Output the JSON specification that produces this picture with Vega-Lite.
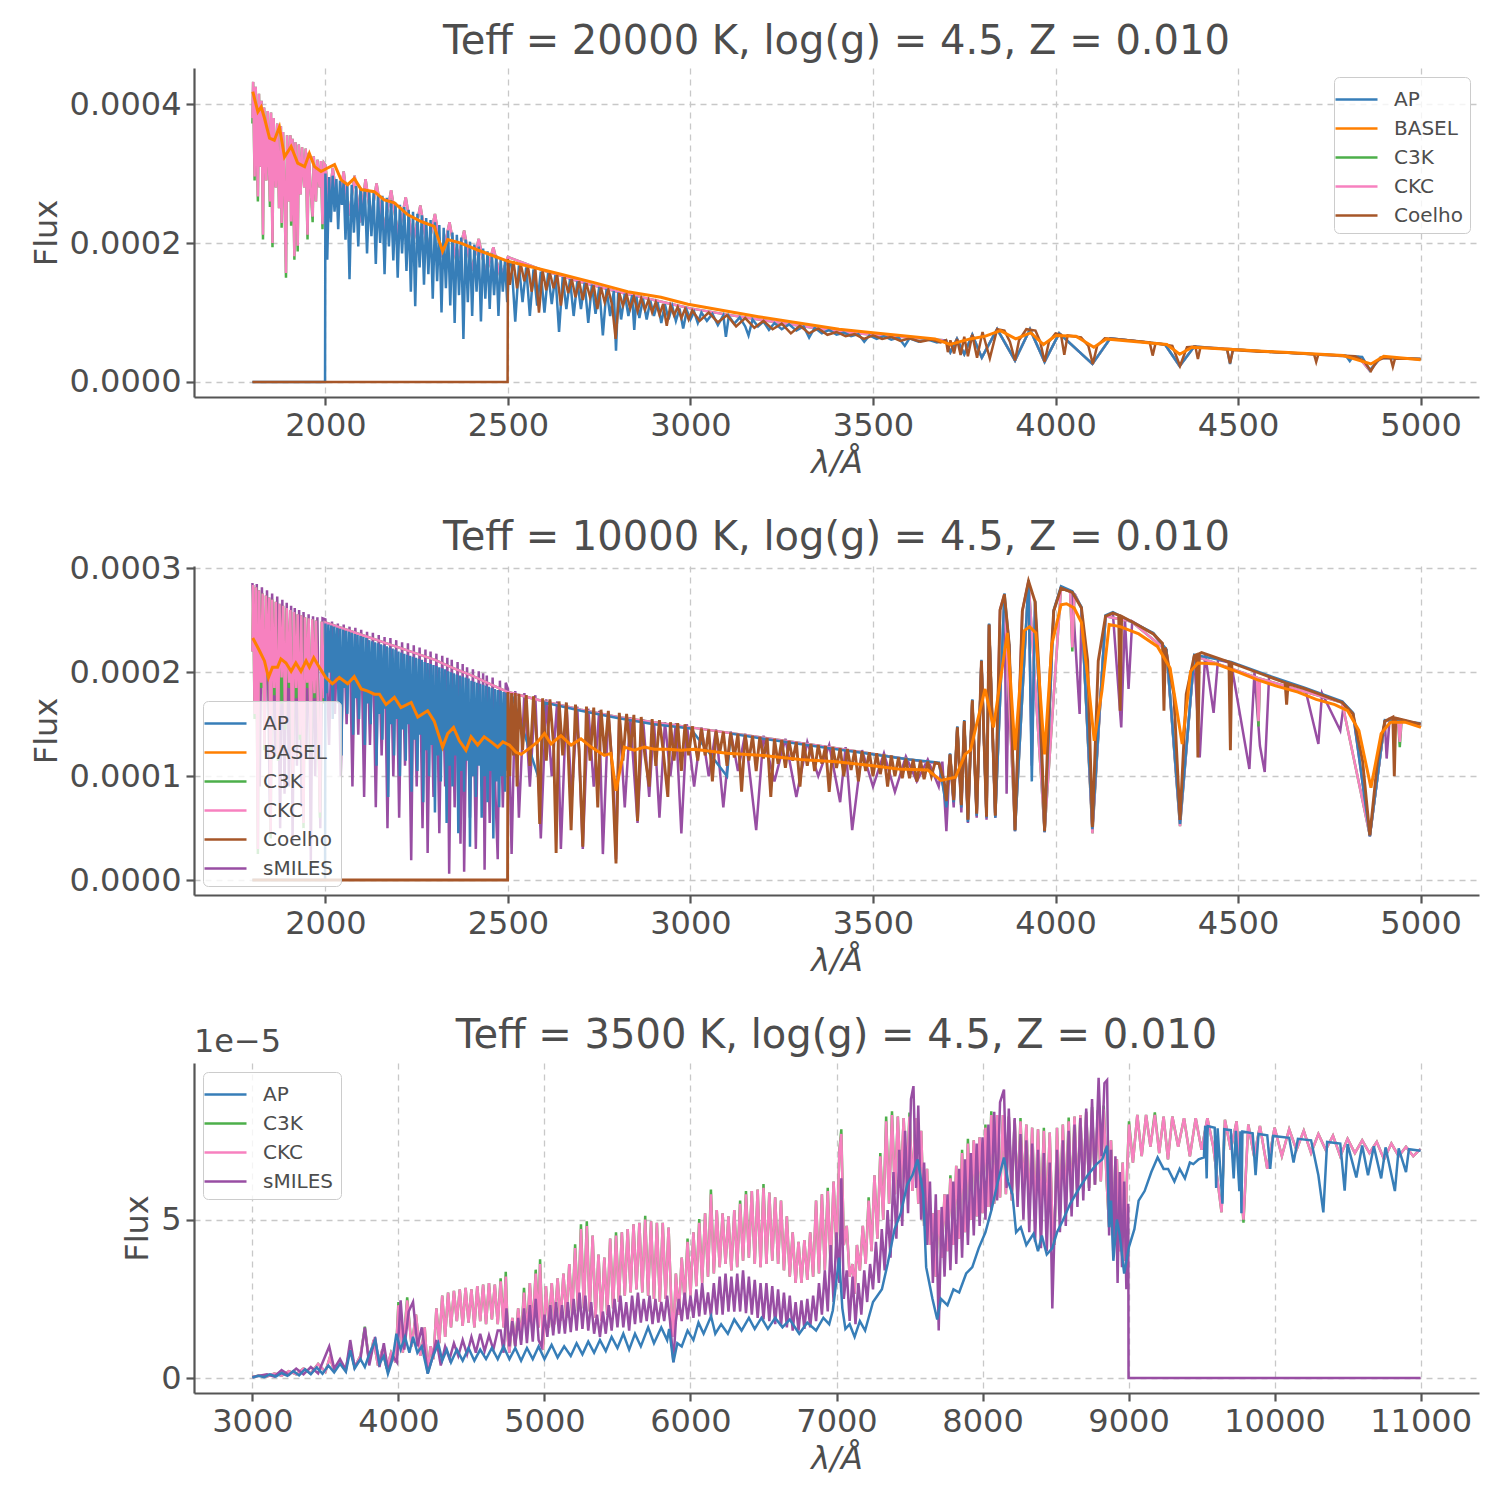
{
  "$schema": "https://vega.github.io/schema/vega-lite/v6.json",
  "padding": {"left": 30, "top": 22, "right": 5, "bottom": 5},
  "config": {
    "font": "DejaVu Sans",
    "view": {"stroke": null},
    "axis": {"labelFontSize": 32, "titleFontSize": 32, "titleFontWeight": "normal", "labelColor": "#4d4d4d", "titleColor": "#4d4d4d", "domainColor": "#555555", "domainWidth": 2.2, "tickColor": "#555555", "tickWidth": 2.2, "tickSize": 8, "gridColor": "#c8c8c8", "gridDash": [6, 5], "gridWidth": 1.3, "labelPadding": 5, "titlePadding": 6, "labelFlush": false, "labelOverlap": false},
    "title": {"fontSize": 40, "fontWeight": "normal", "color": "#4d4d4d", "offset": 6},
    "legend": {"labelFontSize": 20, "labelColor": "#4d4d4d", "symbolType": "M-1.5,0H1.5", "symbolStrokeWidth": 3, "symbolSize": 784, "fillColor": "rgba(255,255,255,0.8)", "strokeColor": "#cccccc", "cornerRadius": 5, "padding": 7, "offset": 9, "rowPadding": 3, "labelOffset": 22},
    "line": {"strokeWidth": 2.5, "clip": true}
  },
  "resolve": {"scale": {"color": "independent"}, "legend": {"color": "independent"}},
  "spacing": 40,
  "datasets": {
    "p1_ckc": [
      {"wl":1800,"CKC":3.80e-4,"C3K":3.72e-4},{"wl":1802,"CKC":4.32e-4,"C3K":4.32e-4},{"wl":1806,"CKC":2.96e-4,"C3K":2.90e-4},{"wl":1809,"CKC":4.25e-4,"C3K":4.25e-4},
      {"wl":1815,"CKC":2.67e-4,"C3K":2.60e-4},{"wl":1818,"CKC":4.15e-4,"C3K":4.15e-4},{"wl":1822,"CKC":3.10e-4,"C3K":3.10e-4},{"wl":1825,"CKC":4.05e-4,"C3K":4.05e-4},
      {"wl":1829,"CKC":2.12e-4,"C3K":2.05e-4},{"wl":1832,"CKC":3.95e-4,"C3K":3.95e-4},{"wl":1838,"CKC":2.90e-4,"C3K":2.90e-4},{"wl":1842,"CKC":3.90e-4,"C3K":3.90e-4},
      {"wl":1848,"CKC":2.60e-4,"C3K":2.52e-4},{"wl":1851,"CKC":3.88e-4,"C3K":3.88e-4},{"wl":1855,"CKC":2.00e-4,"C3K":1.94e-4},{"wl":1858,"CKC":3.80e-4,"C3K":3.80e-4},
      {"wl":1864,"CKC":2.80e-4,"C3K":2.80e-4},{"wl":1868,"CKC":3.72e-4,"C3K":3.72e-4},{"wl":1873,"CKC":2.50e-4,"C3K":2.50e-4},{"wl":1878,"CKC":3.68e-4,"C3K":3.68e-4},
      {"wl":1880,"CKC":2.29e-4,"C3K":2.22e-4},{"wl":1884,"CKC":3.60e-4,"C3K":3.60e-4},{"wl":1888,"CKC":2.70e-4,"C3K":2.70e-4},{"wl":1892,"CKC":1.57e-4,"C3K":1.50e-4},
      {"wl":1895,"CKC":3.55e-4,"C3K":3.55e-4},{"wl":1900,"CKC":2.60e-4,"C3K":2.60e-4},{"wl":1904,"CKC":3.55e-4,"C3K":3.55e-4},{"wl":1906,"CKC":2.31e-4,"C3K":2.25e-4},
      {"wl":1910,"CKC":3.50e-4,"C3K":3.50e-4},{"wl":1915,"CKC":1.81e-4,"C3K":1.76e-4},{"wl":1918,"CKC":3.45e-4,"C3K":3.45e-4},{"wl":1924,"CKC":1.96e-4,"C3K":1.88e-4},
      {"wl":1927,"CKC":3.42e-4,"C3K":3.42e-4},{"wl":1932,"CKC":2.70e-4,"C3K":2.70e-4},{"wl":1936,"CKC":3.38e-4,"C3K":3.38e-4},{"wl":1942,"CKC":2.80e-4,"C3K":2.80e-4},
      {"wl":1946,"CKC":3.36e-4,"C3K":3.36e-4},{"wl":1951,"CKC":2.12e-4,"C3K":2.05e-4},{"wl":1954,"CKC":3.30e-4,"C3K":3.30e-4},{"wl":1960,"CKC":2.75e-4,"C3K":2.75e-4},
      {"wl":1965,"CKC":2.38e-4,"C3K":2.30e-4},{"wl":1968,"CKC":3.25e-4,"C3K":3.25e-4},{"wl":1974,"CKC":2.60e-4,"C3K":2.60e-4},{"wl":1978,"CKC":3.20e-4,"C3K":3.20e-4},
      {"wl":1984,"CKC":2.80e-4,"C3K":2.80e-4},{"wl":1988,"CKC":3.18e-4,"C3K":3.18e-4},{"wl":1992,"CKC":2.27e-4,"C3K":2.20e-4},{"wl":1996,"CKC":3.15e-4,"C3K":3.15e-4},
      {"wl":2000,"CKC":3.12e-4,"C3K":3.12e-4},{"wl":2010,"CKC":2.60e-4,"C3K":2.60e-4},{"wl":2020,"CKC":3.08e-4,"C3K":3.08e-4},{"wl":2035,"CKC":2.50e-4,"C3K":2.50e-4},
      {"wl":2050,"CKC":3.03e-4,"C3K":3.03e-4},{"wl":2065,"CKC":2.40e-4,"C3K":2.40e-4},{"wl":2080,"CKC":2.97e-4,"C3K":2.97e-4},{"wl":2095,"CKC":2.30e-4,"C3K":2.30e-4},
      {"wl":2110,"CKC":2.92e-4,"C3K":2.92e-4},{"wl":2125,"CKC":2.35e-4,"C3K":2.35e-4},{"wl":2140,"CKC":2.86e-4,"C3K":2.86e-4},{"wl":2160,"CKC":2.20e-4,"C3K":2.20e-4},
      {"wl":2180,"CKC":2.76e-4,"C3K":2.76e-4},{"wl":2200,"CKC":2.10e-4,"C3K":2.10e-4},{"wl":2220,"CKC":2.66e-4,"C3K":2.66e-4},{"wl":2240,"CKC":2.00e-4,"C3K":2.00e-4},
      {"wl":2260,"CKC":2.54e-4,"C3K":2.54e-4},{"wl":2280,"CKC":1.90e-4,"C3K":1.90e-4},{"wl":2300,"CKC":2.42e-4,"C3K":2.42e-4},{"wl":2320,"CKC":1.80e-4,"C3K":1.80e-4},
      {"wl":2340,"CKC":2.30e-4,"C3K":2.30e-4},{"wl":2360,"CKC":1.70e-4,"C3K":1.70e-4},{"wl":2380,"CKC":2.18e-4,"C3K":2.18e-4},{"wl":2400,"CKC":1.60e-4,"C3K":1.60e-4},
      {"wl":2420,"CKC":2.06e-4,"C3K":2.06e-4},{"wl":2440,"CKC":1.55e-4,"C3K":1.55e-4},{"wl":2460,"CKC":1.94e-4,"C3K":1.94e-4},{"wl":2480,"CKC":1.50e-4,"C3K":1.50e-4},
      {"wl":2500,"CKC":1.80e-4,"C3K":1.80e-4},{"wl":2550,"CKC":1.70e-4,"C3K":1.70e-4},{"wl":2600,"CKC":1.60e-4,"C3K":1.60e-4},{"wl":2650,"CKC":1.52e-4,"C3K":1.52e-4},
      {"wl":2700,"CKC":1.44e-4,"C3K":1.44e-4},{"wl":2750,"CKC":1.37e-4,"C3K":1.37e-4},{"wl":2800,"CKC":1.30e-4,"C3K":1.30e-4},{"wl":2850,"CKC":1.24e-4,"C3K":1.24e-4},
      {"wl":2900,"CKC":1.18e-4,"C3K":1.18e-4},{"wl":2950,"CKC":1.12e-4,"C3K":1.12e-4},{"wl":3000,"CKC":1.06e-4,"C3K":1.06e-4},{"wl":3100,"CKC":0.97e-4,"C3K":0.97e-4},
      {"wl":3200,"CKC":0.89e-4,"C3K":0.89e-4},{"wl":3300,"CKC":0.81e-4,"C3K":0.81e-4},{"wl":3400,"CKC":0.73e-4,"C3K":0.73e-4},{"wl":3500,"CKC":0.68e-4,"C3K":0.68e-4},
      {"wl":3600,"CKC":0.64e-4,"C3K":0.64e-4},{"wl":3700,"CKC":0.60e-4,"C3K":0.60e-4},{"wl":3712,"CKC":0.43e-4,"C3K":0.43e-4},{"wl":3730,"CKC":0.62e-4,"C3K":0.62e-4},
      {"wl":3750,"CKC":0.40e-4,"C3K":0.40e-4},{"wl":3772,"CKC":0.68e-4,"C3K":0.68e-4},{"wl":3798,"CKC":0.35e-4,"C3K":0.35e-4},{"wl":3840,"CKC":0.76e-4,"C3K":0.76e-4},
      {"wl":3889,"CKC":0.31e-4,"C3K":0.31e-4},{"wl":3930,"CKC":0.76e-4,"C3K":0.76e-4},{"wl":3970,"CKC":0.29e-4,"C3K":0.29e-4},{"wl":4010,"CKC":0.70e-4,"C3K":0.70e-4},
      {"wl":4101,"CKC":0.26e-4,"C3K":0.26e-4},{"wl":4150,"CKC":0.63e-4,"C3K":0.63e-4},{"wl":4300,"CKC":0.54e-4,"C3K":0.54e-4},{"wl":4340,"CKC":0.23e-4,"C3K":0.23e-4},
      {"wl":4380,"CKC":0.51e-4,"C3K":0.51e-4},{"wl":4600,"CKC":0.43e-4,"C3K":0.43e-4},{"wl":4830,"CKC":0.36e-4,"C3K":0.36e-4},{"wl":4861,"CKC":0.16e-4,"C3K":0.16e-4},
      {"wl":4890,"CKC":0.35e-4,"C3K":0.35e-4},{"wl":5000,"CKC":0.33e-4,"C3K":0.33e-4}
    ],
    "p1_ap": [
      {"wl":1800,"flux":0},{"wl":1999,"flux":0},{"wl":2000,"flux":3.00e-4},{"wl":2005,"flux":1.76e-4},{"wl":2010,"flux":2.95e-4},{"wl":2015,"flux":2.30e-4},
      {"wl":2020,"flux":2.97e-4},{"wl":2025,"flux":2.45e-4},{"wl":2030,"flux":2.92e-4},{"wl":2035,"flux":2.20e-4},{"wl":2040,"flux":2.90e-4},{"wl":2045,"flux":2.55e-4},
      {"wl":2050,"flux":2.88e-4},{"wl":2055,"flux":2.05e-4},{"wl":2060,"flux":2.86e-4},{"wl":2066,"flux":1.48e-4},{"wl":2072,"flux":2.84e-4},{"wl":2078,"flux":2.15e-4},
      {"wl":2084,"flux":2.82e-4},{"wl":2090,"flux":1.95e-4},{"wl":2096,"flux":2.80e-4},{"wl":2102,"flux":2.25e-4},{"wl":2108,"flux":2.78e-4},{"wl":2114,"flux":1.85e-4},
      {"wl":2120,"flux":2.75e-4},{"wl":2126,"flux":2.10e-4},{"wl":2132,"flux":2.72e-4},{"wl":2138,"flux":1.70e-4},{"wl":2144,"flux":2.70e-4},{"wl":2150,"flux":2.00e-4},
      {"wl":2156,"flux":2.68e-4},{"wl":2162,"flux":1.55e-4},{"wl":2168,"flux":2.65e-4},{"wl":2174,"flux":1.95e-4},{"wl":2180,"flux":2.62e-4},{"wl":2186,"flux":1.75e-4},
      {"wl":2192,"flux":2.58e-4},{"wl":2198,"flux":1.50e-4},{"wl":2204,"flux":2.55e-4},{"wl":2210,"flux":1.85e-4},{"wl":2216,"flux":2.52e-4},{"wl":2222,"flux":1.60e-4},
      {"wl":2228,"flux":2.48e-4},{"wl":2234,"flux":1.30e-4},{"wl":2240,"flux":2.45e-4},{"wl":2246,"flux":1.09e-4},{"wl":2252,"flux":2.42e-4},{"wl":2258,"flux":1.65e-4},
      {"wl":2264,"flux":2.40e-4},{"wl":2270,"flux":1.40e-4},{"wl":2276,"flux":2.36e-4},{"wl":2282,"flux":1.55e-4},{"wl":2288,"flux":2.33e-4},{"wl":2294,"flux":1.20e-4},
      {"wl":2300,"flux":2.30e-4},{"wl":2306,"flux":1.45e-4},{"wl":2312,"flux":2.26e-4},{"wl":2318,"flux":1.00e-4},{"wl":2324,"flux":2.22e-4},{"wl":2330,"flux":1.35e-4},
      {"wl":2336,"flux":2.18e-4},{"wl":2342,"flux":1.10e-4},{"wl":2348,"flux":2.15e-4},{"wl":2354,"flux":0.85e-4},{"wl":2360,"flux":2.12e-4},{"wl":2366,"flux":1.25e-4},
      {"wl":2372,"flux":2.08e-4},{"wl":2378,"flux":0.62e-4},{"wl":2384,"flux":2.05e-4},{"wl":2390,"flux":1.15e-4},{"wl":2396,"flux":2.02e-4},{"wl":2402,"flux":0.95e-4},
      {"wl":2408,"flux":1.98e-4},{"wl":2414,"flux":1.30e-4},{"wl":2420,"flux":1.95e-4},{"wl":2426,"flux":0.87e-4},{"wl":2432,"flux":1.92e-4},{"wl":2438,"flux":1.20e-4},
      {"wl":2444,"flux":1.88e-4},{"wl":2450,"flux":1.05e-4},{"wl":2456,"flux":1.85e-4},{"wl":2462,"flux":1.25e-4},{"wl":2468,"flux":1.82e-4},{"wl":2474,"flux":0.95e-4},
      {"wl":2480,"flux":1.78e-4},{"wl":2486,"flux":1.30e-4},{"wl":2492,"flux":1.75e-4},{"wl":2498,"flux":1.15e-4},{"wl":2504,"flux":1.72e-4},
      {"wl":2510,"flux":1.71e-4},{"wl":2520,"flux":0.87e-4},{"wl":2530,"flux":1.68e-4},{"wl":2540,"flux":1.15e-4},{"wl":2550,"flux":1.65e-4},{"wl":2560,"flux":0.95e-4},
      {"wl":2570,"flux":1.62e-4},{"wl":2580,"flux":1.10e-4},{"wl":2590,"flux":1.59e-4},{"wl":2600,"flux":1.00e-4},{"wl":2610,"flux":1.57e-4},{"wl":2620,"flux":1.12e-4},
      {"wl":2630,"flux":1.54e-4},{"wl":2640,"flux":0.72e-4},{"wl":2650,"flux":1.51e-4},{"wl":2660,"flux":1.05e-4},{"wl":2670,"flux":1.48e-4},{"wl":2680,"flux":0.95e-4},
      {"wl":2690,"flux":1.45e-4},{"wl":2700,"flux":1.05e-4},{"wl":2710,"flux":1.43e-4},{"wl":2720,"flux":0.85e-4},{"wl":2730,"flux":1.40e-4},{"wl":2740,"flux":0.98e-4},
      {"wl":2750,"flux":1.37e-4},{"wl":2760,"flux":0.67e-4},{"wl":2770,"flux":1.34e-4},{"wl":2780,"flux":0.95e-4},{"wl":2790,"flux":1.31e-4},{"wl":2796,"flux":0.45e-4},
      {"wl":2802,"flux":1.29e-4},{"wl":2810,"flux":0.90e-4},{"wl":2820,"flux":1.27e-4},{"wl":2830,"flux":0.95e-4},{"wl":2840,"flux":1.25e-4},{"wl":2846,"flux":0.75e-4},
      {"wl":2852,"flux":1.23e-4},{"wl":2860,"flux":0.92e-4},{"wl":2870,"flux":1.20e-4},{"wl":2880,"flux":0.90e-4},{"wl":2890,"flux":1.17e-4},{"wl":2900,"flux":0.95e-4},
      {"wl":2910,"flux":1.15e-4},{"wl":2920,"flux":0.85e-4},{"wl":2930,"flux":1.12e-4},{"wl":2940,"flux":0.90e-4},{"wl":2950,"flux":1.09e-4},{"wl":2960,"flux":0.88e-4},
      {"wl":2970,"flux":1.06e-4},{"wl":2980,"flux":0.77e-4},{"wl":2990,"flux":1.03e-4},{"wl":3000,"flux":0.90e-4},
      {"wl":3010,"flux":1.01e-4},{"wl":3020,"flux":0.85e-4},{"wl":3030,"flux":1.00e-4},{"wl":3045,"flux":0.88e-4},{"wl":3060,"flux":0.98e-4},{"wl":3075,"flux":0.82e-4},
      {"wl":3090,"flux":0.96e-4},{"wl":3097,"flux":0.65e-4},{"wl":3105,"flux":0.95e-4},{"wl":3120,"flux":0.84e-4},{"wl":3135,"flux":0.93e-4},{"wl":3150,"flux":0.80e-4},
      {"wl":3159,"flux":0.67e-4},{"wl":3170,"flux":0.90e-4},{"wl":3185,"flux":0.80e-4},{"wl":3200,"flux":0.87e-4},{"wl":3215,"flux":0.75e-4},{"wl":3230,"flux":0.85e-4},
      {"wl":3250,"flux":0.76e-4},{"wl":3270,"flux":0.83e-4},{"wl":3290,"flux":0.74e-4},{"wl":3310,"flux":0.80e-4},{"wl":3325,"flux":0.64e-4},{"wl":3340,"flux":0.78e-4},
      {"wl":3360,"flux":0.70e-4},{"wl":3380,"flux":0.75e-4},{"wl":3400,"flux":0.68e-4},{"wl":3420,"flux":0.71e-4},{"wl":3440,"flux":0.66e-4},{"wl":3460,"flux":0.69e-4},
      {"wl":3476,"flux":0.58e-4},{"wl":3490,"flux":0.67e-4},{"wl":3510,"flux":0.62e-4},{"wl":3530,"flux":0.66e-4},{"wl":3550,"flux":0.61e-4},{"wl":3570,"flux":0.64e-4},
      {"wl":3587,"flux":0.52e-4},{"wl":3600,"flux":0.63e-4},{"wl":3625,"flux":0.58e-4},{"wl":3650,"flux":0.61e-4},{"wl":3675,"flux":0.57e-4},{"wl":3700,"flux":0.60e-4},
      {"wl":3712,"flux":0.43e-4},{"wl":3730,"flux":0.62e-4},{"wl":3750,"flux":0.40e-4},{"wl":3772,"flux":0.68e-4},{"wl":3798,"flux":0.35e-4},{"wl":3840,"flux":0.76e-4},
      {"wl":3889,"flux":0.31e-4},{"wl":3930,"flux":0.76e-4},{"wl":3970,"flux":0.29e-4},{"wl":4010,"flux":0.70e-4},{"wl":4101,"flux":0.26e-4},{"wl":4150,"flux":0.63e-4},
      {"wl":4300,"flux":0.54e-4},{"wl":4340,"flux":0.23e-4},{"wl":4380,"flux":0.51e-4},{"wl":4470,"flux":0.47e-4},{"wl":4478,"flux":0.26e-4},{"wl":4486,"flux":0.47e-4},
      {"wl":4600,"flux":0.43e-4},{"wl":4795,"flux":0.38e-4},{"wl":4806,"flux":0.30e-4},{"wl":4815,"flux":0.37e-4},{"wl":4840,"flux":0.36e-4},{"wl":4861,"flux":0.17e-4},
      {"wl":4890,"flux":0.35e-4},{"wl":5000,"flux":0.33e-4}
    ],
    "p1_coelho": [
      {"wl":1800,"flux":0},{"wl":2499,"flux":0},{"wl":2500,"flux":1.77e-4},{"wl":2505,"flux":1.40e-4},{"wl":2515,"flux":1.74e-4},{"wl":2525,"flux":1.35e-4},
      {"wl":2535,"flux":1.70e-4},{"wl":2545,"flux":1.45e-4},{"wl":2555,"flux":1.66e-4},{"wl":2565,"flux":1.30e-4},{"wl":2575,"flux":1.63e-4},{"wl":2585,"flux":1.00e-4},
      {"wl":2595,"flux":1.60e-4},{"wl":2605,"flux":1.32e-4},{"wl":2615,"flux":1.57e-4},{"wl":2625,"flux":1.35e-4},{"wl":2635,"flux":1.54e-4},{"wl":2645,"flux":1.10e-4},
      {"wl":2655,"flux":1.51e-4},{"wl":2665,"flux":1.28e-4},{"wl":2675,"flux":1.48e-4},{"wl":2685,"flux":1.22e-4},{"wl":2695,"flux":1.45e-4},{"wl":2705,"flux":1.18e-4},
      {"wl":2715,"flux":1.42e-4},{"wl":2725,"flux":1.22e-4},{"wl":2735,"flux":1.39e-4},{"wl":2745,"flux":1.05e-4},{"wl":2755,"flux":1.36e-4},{"wl":2765,"flux":1.15e-4},
      {"wl":2775,"flux":1.33e-4},{"wl":2785,"flux":1.12e-4},{"wl":2795,"flux":0.62e-4},{"wl":2805,"flux":1.28e-4},{"wl":2815,"flux":1.10e-4},{"wl":2825,"flux":1.26e-4},
      {"wl":2835,"flux":1.06e-4},{"wl":2845,"flux":1.23e-4},{"wl":2855,"flux":1.02e-4},{"wl":2865,"flux":1.21e-4},{"wl":2875,"flux":1.04e-4},{"wl":2885,"flux":1.18e-4},
      {"wl":2895,"flux":1.00e-4},{"wl":2905,"flux":1.15e-4},{"wl":2915,"flux":0.97e-4},{"wl":2925,"flux":1.12e-4},{"wl":2935,"flux":0.81e-4},{"wl":2945,"flux":1.10e-4},
      {"wl":2955,"flux":0.96e-4},{"wl":2965,"flux":1.08e-4},{"wl":2975,"flux":0.92e-4},{"wl":2985,"flux":1.05e-4},{"wl":2995,"flux":0.90e-4},{"wl":3005,"flux":1.03e-4},
      {"wl":3025,"flux":0.88e-4},{"wl":3050,"flux":1.00e-4},{"wl":3075,"flux":0.86e-4},{"wl":3100,"flux":0.96e-4},{"wl":3125,"flux":0.80e-4},{"wl":3150,"flux":0.92e-4},
      {"wl":3175,"flux":0.78e-4},{"wl":3200,"flux":0.88e-4},{"wl":3225,"flux":0.76e-4},{"wl":3250,"flux":0.84e-4},{"wl":3275,"flux":0.70e-4},{"wl":3300,"flux":0.81e-4},
      {"wl":3325,"flux":0.70e-4},{"wl":3350,"flux":0.77e-4},{"wl":3375,"flux":0.68e-4},{"wl":3400,"flux":0.72e-4},{"wl":3425,"flux":0.66e-4},{"wl":3450,"flux":0.69e-4},
      {"wl":3475,"flux":0.62e-4},{"wl":3500,"flux":0.67e-4},{"wl":3525,"flux":0.62e-4},{"wl":3550,"flux":0.65e-4},{"wl":3575,"flux":0.59e-4},{"wl":3600,"flux":0.63e-4},
      {"wl":3630,"flux":0.58e-4},{"wl":3660,"flux":0.61e-4},{"wl":3685,"flux":0.57e-4},{"wl":3700,"flux":0.60e-4},{"wl":3705,"flux":0.43e-4},{"wl":3712,"flux":0.60e-4},
      {"wl":3722,"flux":0.41e-4},{"wl":3730,"flux":0.62e-4},{"wl":3740,"flux":0.39e-4},{"wl":3750,"flux":0.65e-4},{"wl":3760,"flux":0.37e-4},{"wl":3772,"flux":0.68e-4},
      {"wl":3785,"flux":0.35e-4},{"wl":3800,"flux":0.72e-4},{"wl":3820,"flux":0.34e-4},{"wl":3840,"flux":0.76e-4},{"wl":3860,"flux":0.74e-4},{"wl":3875,"flux":0.58e-4},
      {"wl":3889,"flux":0.31e-4},{"wl":3900,"flux":0.60e-4},{"wl":3920,"flux":0.76e-4},{"wl":3945,"flux":0.74e-4},{"wl":3958,"flux":0.58e-4},{"wl":3970,"flux":0.29e-4},
      {"wl":3982,"flux":0.58e-4},{"wl":4000,"flux":0.70e-4},{"wl":4015,"flux":0.68e-4},{"wl":4024,"flux":0.39e-4},{"wl":4033,"flux":0.67e-4},{"wl":4070,"flux":0.64e-4},
      {"wl":4090,"flux":0.52e-4},{"wl":4102,"flux":0.26e-4},{"wl":4114,"flux":0.52e-4},{"wl":4135,"flux":0.63e-4},{"wl":4200,"flux":0.60e-4},{"wl":4258,"flux":0.57e-4},
      {"wl":4266,"flux":0.38e-4},{"wl":4274,"flux":0.56e-4},{"wl":4320,"flux":0.52e-4},{"wl":4341,"flux":0.23e-4},{"wl":4360,"flux":0.50e-4},{"wl":4383,"flux":0.51e-4},
      {"wl":4390,"flux":0.33e-4},{"wl":4397,"flux":0.50e-4},{"wl":4470,"flux":0.47e-4},{"wl":4478,"flux":0.27e-4},{"wl":4486,"flux":0.46e-4},{"wl":4550,"flux":0.44e-4},
      {"wl":4640,"flux":0.42e-4},{"wl":4708,"flux":0.40e-4},{"wl":4714,"flux":0.29e-4},{"wl":4720,"flux":0.40e-4},{"wl":4820,"flux":0.37e-4},{"wl":4845,"flux":0.30e-4},
      {"wl":4864,"flux":0.16e-4},{"wl":4880,"flux":0.30e-4},{"wl":4900,"flux":0.35e-4},{"wl":4918,"flux":0.34e-4},{"wl":4924,"flux":0.22e-4},{"wl":4930,"flux":0.34e-4},
      {"wl":5000,"flux":0.33e-4}
    ],
    "p1_basel": [
      {"wl":1801,"flux":4.18e-4},{"wl":1815,"flux":3.89e-4},{"wl":1824,"flux":3.96e-4},{"wl":1833,"flux":3.80e-4},{"wl":1847,"flux":3.51e-4},{"wl":1860,"flux":3.48e-4},
      {"wl":1874,"flux":3.67e-4},{"wl":1888,"flux":3.24e-4},{"wl":1906,"flux":3.39e-4},{"wl":1924,"flux":3.15e-4},{"wl":1943,"flux":3.10e-4},{"wl":1956,"flux":3.29e-4},
      {"wl":1970,"flux":3.10e-4},{"wl":1988,"flux":3.03e-4},{"wl":2006,"flux":3.08e-4},{"wl":2025,"flux":3.13e-4},{"wl":2043,"flux":2.91e-4},{"wl":2061,"flux":2.84e-4},
      {"wl":2079,"flux":2.93e-4},{"wl":2098,"flux":2.77e-4},{"wl":2134,"flux":2.74e-4},{"wl":2161,"flux":2.62e-4},{"wl":2189,"flux":2.58e-4},{"wl":2225,"flux":2.41e-4},
      {"wl":2262,"flux":2.31e-4},{"wl":2298,"flux":2.24e-4},{"wl":2321,"flux":1.88e-4},{"wl":2335,"flux":2.05e-4},{"wl":2371,"flux":2.00e-4},{"wl":2417,"flux":1.90e-4},
      {"wl":2463,"flux":1.81e-4},{"wl":2499,"flux":1.74e-4},{"wl":2554,"flux":1.67e-4},{"wl":2645,"flux":1.55e-4},{"wl":2736,"flux":1.43e-4},{"wl":2800,"flux":1.34e-4},
      {"wl":2828,"flux":1.30e-4},{"wl":2919,"flux":1.22e-4},{"wl":2993,"flux":1.12e-4},{"wl":3186,"flux":0.94e-4},{"wl":3407,"flux":0.76e-4},{"wl":3500,"flux":0.71e-4},
      {"wl":3670,"flux":0.62e-4},{"wl":3711,"flux":0.54e-4},{"wl":3766,"flux":0.62e-4},{"wl":3808,"flux":0.66e-4},{"wl":3849,"flux":0.74e-4},{"wl":3891,"flux":0.62e-4},
      {"wl":3932,"flux":0.71e-4},{"wl":3967,"flux":0.54e-4},{"wl":4001,"flux":0.67e-4},{"wl":4056,"flux":0.66e-4},{"wl":4105,"flux":0.50e-4},{"wl":4139,"flux":0.62e-4},
      {"wl":4305,"flux":0.54e-4},{"wl":4340,"flux":0.40e-4},{"wl":4374,"flux":0.50e-4},{"wl":4512,"flux":0.46e-4},{"wl":4788,"flux":0.38e-4},{"wl":4864,"flux":0.26e-4},
      {"wl":4899,"flux":0.37e-4},{"wl":5000,"flux":0.32e-4}
    ],
    "p2_ckc": [
      {"wl":1800,"CKC":2.20e-4,"C3K":2.20e-4},{"wl":1802,"CKC":2.84e-4,"C3K":2.84e-4},{"wl":1806,"CKC":1.60e-4,"C3K":1.55e-4},{"wl":1810,"CKC":2.82e-4,"C3K":2.82e-4},
      {"wl":1815,"CKC":0.30e-4,"C3K":0.25e-4},{"wl":1818,"CKC":2.79e-4,"C3K":2.79e-4},{"wl":1824,"CKC":1.90e-4,"C3K":1.85e-4},{"wl":1828,"CKC":2.76e-4,"C3K":2.76e-4},
      {"wl":1833,"CKC":1.30e-4,"C3K":1.25e-4},{"wl":1837,"CKC":2.74e-4,"C3K":2.74e-4},{"wl":1842,"CKC":2.00e-4,"C3K":1.95e-4},{"wl":1846,"CKC":2.72e-4,"C3K":2.72e-4},
      {"wl":1850,"CKC":0.45e-4,"C3K":0.40e-4},{"wl":1854,"CKC":2.70e-4,"C3K":2.70e-4},{"wl":1860,"CKC":1.85e-4,"C3K":1.78e-4},{"wl":1864,"CKC":2.68e-4,"C3K":2.68e-4},
      {"wl":1870,"CKC":1.20e-4,"C3K":1.15e-4},{"wl":1874,"CKC":2.66e-4,"C3K":2.66e-4},{"wl":1880,"CKC":1.95e-4,"C3K":1.70e-4},{"wl":1884,"CKC":2.64e-4,"C3K":2.64e-4},
      {"wl":1890,"CKC":1.50e-4,"C3K":1.45e-4},{"wl":1894,"CKC":2.62e-4,"C3K":2.62e-4},{"wl":1900,"CKC":1.90e-4,"C3K":1.85e-4},{"wl":1904,"CKC":2.60e-4,"C3K":2.60e-4},
      {"wl":1910,"CKC":1.00e-4,"C3K":0.95e-4},{"wl":1914,"CKC":2.58e-4,"C3K":2.58e-4},{"wl":1920,"CKC":1.85e-4,"C3K":1.75e-4},{"wl":1924,"CKC":2.56e-4,"C3K":2.56e-4},
      {"wl":1930,"CKC":1.40e-4,"C3K":1.35e-4},{"wl":1934,"CKC":2.55e-4,"C3K":2.55e-4},{"wl":1940,"CKC":0.55e-4,"C3K":0.50e-4},{"wl":1944,"CKC":2.53e-4,"C3K":2.53e-4},
      {"wl":1950,"CKC":1.90e-4,"C3K":1.85e-4},{"wl":1954,"CKC":2.52e-4,"C3K":2.52e-4},{"wl":1960,"CKC":1.30e-4,"C3K":1.25e-4},{"wl":1964,"CKC":2.51e-4,"C3K":2.51e-4},
      {"wl":1970,"CKC":1.80e-4,"C3K":1.75e-4},{"wl":1974,"CKC":2.50e-4,"C3K":2.50e-4},{"wl":1980,"CKC":1.60e-4,"C3K":1.55e-4},{"wl":1985,"CKC":0.65e-4,"C3K":0.60e-4},
      {"wl":1990,"CKC":2.49e-4,"C3K":2.49e-4},{"wl":1996,"CKC":1.75e-4,"C3K":1.70e-4},{"wl":2000,"CKC":2.48e-4,"C3K":2.48e-4},{"wl":2050,"CKC":2.42e-4,"C3K":2.42e-4},
      {"wl":2100,"CKC":2.36e-4,"C3K":2.36e-4},{"wl":2150,"CKC":2.30e-4,"C3K":2.30e-4},{"wl":2200,"CKC":2.24e-4,"C3K":2.24e-4},{"wl":2250,"CKC":2.18e-4,"C3K":2.18e-4},
      {"wl":2300,"CKC":2.12e-4,"C3K":2.12e-4},{"wl":2350,"CKC":2.04e-4,"C3K":2.04e-4},{"wl":2400,"CKC":1.97e-4,"C3K":1.97e-4},{"wl":2450,"CKC":1.89e-4,"C3K":1.89e-4},
      {"wl":2500,"CKC":1.81e-4,"C3K":1.81e-4},{"wl":2600,"CKC":1.72e-4,"C3K":1.72e-4},{"wl":2700,"CKC":1.64e-4,"C3K":1.64e-4},{"wl":2800,"CKC":1.57e-4,"C3K":1.57e-4},
      {"wl":2900,"CKC":1.52e-4,"C3K":1.52e-4},{"wl":3000,"CKC":1.47e-4,"C3K":1.47e-4},{"wl":3200,"CKC":1.37e-4,"C3K":1.37e-4},{"wl":3400,"CKC":1.27e-4,"C3K":1.27e-4},
      {"wl":3600,"CKC":1.16e-4,"C3K":1.16e-4},{"wl":3681,"CKC":1.12e-4,"C3K":1.12e-4},{"wl":3700,"CKC":0.76e-4,"C3K":0.76e-4},{"wl":3711,"CKC":1.21e-4,"C3K":1.21e-4},
      {"wl":3721,"CKC":0.77e-4,"C3K":0.77e-4},{"wl":3731,"CKC":1.47e-4,"C3K":1.47e-4},{"wl":3742,"CKC":0.72e-4,"C3K":0.72e-4},{"wl":3750,"CKC":1.53e-4,"C3K":1.53e-4},
      {"wl":3760,"CKC":0.58e-4,"C3K":0.58e-4},{"wl":3772,"CKC":1.73e-4,"C3K":1.73e-4},{"wl":3784,"CKC":0.64e-4,"C3K":0.64e-4},{"wl":3797,"CKC":2.11e-4,"C3K":2.11e-4},
      {"wl":3811,"CKC":0.61e-4,"C3K":0.61e-4},{"wl":3818,"CKC":2.46e-4,"C3K":2.46e-4},{"wl":3835,"CKC":0.62e-4,"C3K":0.62e-4},{"wl":3860,"CKC":2.75e-4,"C3K":2.75e-4},
      {"wl":3889,"CKC":0.48e-4,"C3K":0.48e-4},{"wl":3926,"CKC":2.88e-4,"C3K":2.88e-4},{"wl":3970,"CKC":0.47e-4,"C3K":0.47e-4},{"wl":4015,"CKC":2.81e-4,"C3K":2.81e-4},
      {"wl":4040,"CKC":2.78e-4,"C3K":2.78e-4},{"wl":4046,"CKC":2.24e-4,"C3K":2.20e-4},{"wl":4052,"CKC":2.76e-4,"C3K":2.76e-4},{"wl":4071,"CKC":2.62e-4,"C3K":2.62e-4},
      {"wl":4101,"CKC":0.45e-4,"C3K":0.45e-4},{"wl":4137,"CKC":2.54e-4,"C3K":2.54e-4},{"wl":4208,"CKC":2.49e-4,"C3K":2.49e-4},{"wl":4304,"CKC":2.21e-4,"C3K":2.21e-4},
      {"wl":4341,"CKC":0.52e-4,"C3K":0.52e-4},{"wl":4380,"CKC":2.16e-4,"C3K":2.16e-4},{"wl":4552,"CKC":1.95e-4,"C3K":1.95e-4},{"wl":4556,"CKC":1.53e-4,"C3K":1.48e-4},
      {"wl":4560,"CKC":1.94e-4,"C3K":1.94e-4},{"wl":4785,"CKC":1.71e-4,"C3K":1.71e-4},{"wl":4861,"CKC":0.43e-4,"C3K":0.43e-4},{"wl":4902,"CKC":1.53e-4,"C3K":1.53e-4},
      {"wl":4938,"CKC":1.55e-4,"C3K":1.55e-4},{"wl":4943,"CKC":1.33e-4,"C3K":1.28e-4},{"wl":4948,"CKC":1.54e-4,"C3K":1.54e-4},{"wl":5000,"CKC":1.50e-4,"C3K":1.50e-4}
    ],
    "p2_smiles": [
      {"wl":1800,"flux":2.86e-4},{"wl":1808,"flux":2.00e-4},{"wl":1812,"flux":2.85e-4},{"wl":1820,"flux":0.90e-4},{"wl":1826,"flux":2.82e-4},{"wl":1834,"flux":1.50e-4},
      {"wl":1840,"flux":2.79e-4},{"wl":1848,"flux":0.60e-4},{"wl":1854,"flux":2.76e-4},{"wl":1862,"flux":1.20e-4},{"wl":1868,"flux":2.73e-4},{"wl":1876,"flux":0.50e-4},
      {"wl":1882,"flux":2.70e-4},{"wl":1888,"flux":0.83e-4},{"wl":1894,"flux":2.67e-4},{"wl":1900,"flux":0.90e-4},{"wl":1906,"flux":2.64e-4},{"wl":1910,"flux":0.35e-4},
      {"wl":1916,"flux":2.62e-4},{"wl":1922,"flux":1.10e-4},{"wl":1928,"flux":2.60e-4},{"wl":1935,"flux":0.70e-4},{"wl":1940,"flux":2.58e-4},{"wl":1948,"flux":1.30e-4},
      {"wl":1954,"flux":2.56e-4},{"wl":1960,"flux":0.19e-4},{"wl":1966,"flux":2.54e-4},{"wl":1972,"flux":1.00e-4},{"wl":1978,"flux":2.53e-4},{"wl":1986,"flux":0.50e-4},
      {"wl":1992,"flux":2.52e-4},{"wl":2000,"flux":2.51e-4},{"wl":2010,"flux":1.30e-4},{"wl":2018,"flux":2.49e-4},{"wl":2026,"flux":1.60e-4},{"wl":2034,"flux":2.47e-4},
      {"wl":2042,"flux":1.00e-4},{"wl":2050,"flux":2.46e-4},{"wl":2058,"flux":1.50e-4},{"wl":2066,"flux":2.44e-4},{"wl":2074,"flux":0.90e-4},{"wl":2082,"flux":2.43e-4},
      {"wl":2090,"flux":1.40e-4},{"wl":2098,"flux":2.41e-4},{"wl":2106,"flux":0.80e-4},{"wl":2114,"flux":2.39e-4},{"wl":2122,"flux":1.30e-4},{"wl":2130,"flux":2.38e-4},
      {"wl":2138,"flux":0.70e-4},{"wl":2146,"flux":2.36e-4},{"wl":2154,"flux":1.20e-4},{"wl":2162,"flux":2.34e-4},{"wl":2170,"flux":0.50e-4},{"wl":2178,"flux":2.33e-4},
      {"wl":2186,"flux":1.00e-4},{"wl":2194,"flux":2.31e-4},{"wl":2202,"flux":0.60e-4},{"wl":2210,"flux":2.29e-4},{"wl":2218,"flux":1.10e-4},{"wl":2226,"flux":2.28e-4},
      {"wl":2235,"flux":0.19e-4},{"wl":2242,"flux":2.26e-4},{"wl":2250,"flux":0.90e-4},{"wl":2258,"flux":2.24e-4},{"wl":2266,"flux":0.50e-4},{"wl":2274,"flux":2.22e-4},
      {"wl":2280,"flux":0.26e-4},{"wl":2288,"flux":2.20e-4},{"wl":2296,"flux":0.80e-4},{"wl":2304,"flux":2.18e-4},{"wl":2312,"flux":0.45e-4},{"wl":2320,"flux":2.16e-4},
      {"wl":2328,"flux":0.90e-4},{"wl":2334,"flux":2.14e-4},{"wl":2339,"flux":0.06e-4},{"wl":2346,"flux":2.12e-4},{"wl":2354,"flux":0.70e-4},{"wl":2362,"flux":2.10e-4},
      {"wl":2370,"flux":0.35e-4},{"wl":2376,"flux":2.08e-4},{"wl":2380,"flux":0.08e-4},{"wl":2388,"flux":2.05e-4},{"wl":2396,"flux":0.60e-4},{"wl":2404,"flux":2.03e-4},
      {"wl":2412,"flux":0.30e-4},{"wl":2420,"flux":2.01e-4},{"wl":2428,"flux":0.90e-4},{"wl":2432,"flux":1.99e-4},{"wl":2436,"flux":0.10e-4},{"wl":2442,"flux":1.97e-4},
      {"wl":2450,"flux":0.55e-4},{"wl":2458,"flux":1.95e-4},{"wl":2466,"flux":0.80e-4},{"wl":2472,"flux":0.20e-4},{"wl":2478,"flux":1.92e-4},{"wl":2486,"flux":0.70e-4},
      {"wl":2494,"flux":1.90e-4},{"wl":2500,"flux":1.84e-4},{"wl":2510,"flux":0.25e-4},{"wl":2520,"flux":1.82e-4},{"wl":2530,"flux":0.60e-4},{"wl":2545,"flux":1.80e-4},
      {"wl":2560,"flux":0.90e-4},{"wl":2575,"flux":1.78e-4},{"wl":2590,"flux":0.40e-4},{"wl":2605,"flux":1.74e-4},{"wl":2620,"flux":1.00e-4},{"wl":2635,"flux":1.72e-4},
      {"wl":2645,"flux":0.30e-4},{"wl":2660,"flux":1.70e-4},{"wl":2675,"flux":0.80e-4},{"wl":2690,"flux":1.67e-4},{"wl":2705,"flux":0.30e-4},{"wl":2720,"flux":1.65e-4},
      {"wl":2735,"flux":0.90e-4},{"wl":2750,"flux":1.63e-4},{"wl":2760,"flux":0.25e-4},{"wl":2775,"flux":1.61e-4},{"wl":2790,"flux":0.90e-4},{"wl":2796,"flux":0.20e-4},
      {"wl":2805,"flux":1.59e-4},{"wl":2820,"flux":0.70e-4},{"wl":2835,"flux":1.57e-4},{"wl":2855,"flux":0.55e-4},{"wl":2870,"flux":1.55e-4},{"wl":2887,"flux":0.80e-4},
      {"wl":2900,"flux":1.53e-4},{"wl":2915,"flux":0.60e-4},{"wl":2930,"flux":1.52e-4},{"wl":2945,"flux":1.00e-4},{"wl":2960,"flux":1.51e-4},{"wl":2975,"flux":0.45e-4},
      {"wl":2990,"flux":1.50e-4},{"wl":3010,"flux":0.90e-4},{"wl":3030,"flux":1.47e-4},{"wl":3050,"flux":1.00e-4},{"wl":3070,"flux":1.45e-4},{"wl":3090,"flux":0.70e-4},
      {"wl":3110,"flux":1.43e-4},{"wl":3130,"flux":1.05e-4},{"wl":3150,"flux":1.41e-4},{"wl":3180,"flux":0.48e-4},{"wl":3200,"flux":1.39e-4},{"wl":3230,"flux":0.95e-4},
      {"wl":3260,"flux":1.36e-4},{"wl":3290,"flux":0.80e-4},{"wl":3320,"flux":1.33e-4},{"wl":3350,"flux":1.00e-4},{"wl":3380,"flux":1.30e-4},{"wl":3410,"flux":0.75e-4},
      {"wl":3425,"flux":1.28e-4},{"wl":3443,"flux":0.48e-4},{"wl":3470,"flux":1.25e-4},{"wl":3500,"flux":0.90e-4},{"wl":3530,"flux":1.22e-4},{"wl":3560,"flux":0.85e-4},
      {"wl":3590,"flux":1.19e-4},{"wl":3620,"flux":0.95e-4},{"wl":3650,"flux":1.16e-4},{"wl":3680,"flux":0.90e-4},{"wl":3690,"flux":1.14e-4},{"wl":3701,"flux":0.47e-4},
      {"wl":3711,"flux":1.21e-4},{"wl":3721,"flux":0.70e-4},{"wl":3731,"flux":1.47e-4},{"wl":3742,"flux":0.65e-4},{"wl":3750,"flux":1.53e-4},{"wl":3760,"flux":0.55e-4},
      {"wl":3772,"flux":1.73e-4},{"wl":3784,"flux":0.60e-4},{"wl":3797,"flux":2.11e-4},{"wl":3811,"flux":0.58e-4},{"wl":3818,"flux":2.46e-4},{"wl":3835,"flux":0.60e-4},
      {"wl":3848,"flux":2.60e-4},{"wl":3860,"flux":2.75e-4},{"wl":3866,"flux":0.83e-4},{"wl":3873,"flux":2.27e-4},{"wl":3889,"flux":0.47e-4},{"wl":3909,"flux":2.59e-4},
      {"wl":3926,"flux":2.88e-4},{"wl":3935,"flux":1.10e-4},{"wl":3944,"flux":2.68e-4},{"wl":3970,"flux":0.46e-4},{"wl":3995,"flux":2.59e-4},{"wl":4015,"flux":2.81e-4},
      {"wl":4046,"flux":2.77e-4},{"wl":4066,"flux":1.60e-4},{"wl":4071,"flux":2.62e-4},{"wl":4101,"flux":0.50e-4},{"wl":4137,"flux":2.54e-4},{"wl":4157,"flux":2.57e-4},
      {"wl":4180,"flux":1.47e-4},{"wl":4190,"flux":2.52e-4},{"wl":4200,"flux":1.84e-4},{"wl":4210,"flux":2.49e-4},{"wl":4268,"flux":2.37e-4},{"wl":4304,"flux":2.21e-4},
      {"wl":4341,"flux":0.57e-4},{"wl":4380,"flux":2.16e-4},{"wl":4395,"flux":1.18e-4},{"wl":4410,"flux":2.17e-4},{"wl":4433,"flux":1.61e-4},{"wl":4445,"flux":2.12e-4},
      {"wl":4481,"flux":2.09e-4},{"wl":4531,"flux":1.07e-4},{"wl":4545,"flux":2.00e-4},{"wl":4560,"flux":1.29e-4},{"wl":4573,"flux":1.04e-4},{"wl":4585,"flux":1.96e-4},
      {"wl":4684,"flux":1.84e-4},{"wl":4720,"flux":1.31e-4},{"wl":4730,"flux":1.80e-4},{"wl":4780,"flux":1.44e-4},{"wl":4790,"flux":1.70e-4},{"wl":4815,"flux":1.60e-4},
      {"wl":4861,"flux":0.42e-4},{"wl":4902,"flux":1.53e-4},{"wl":4907,"flux":1.17e-4},{"wl":4915,"flux":1.55e-4},{"wl":5000,"flux":1.50e-4}
    ],
    "p2_ap": [
      {"wl":1800,"flux":0},{"wl":1999,"flux":0},{"wl":2000,"flux":2.47e-4},{"wl":2004,"flux":1.80e-4},{"wl":2008,"flux":2.46e-4},{"wl":2012,"flux":2.00e-4},
      {"wl":2016,"flux":2.45e-4},{"wl":2020,"flux":1.55e-4},{"wl":2024,"flux":2.44e-4},{"wl":2028,"flux":1.95e-4},{"wl":2032,"flux":2.43e-4},{"wl":2036,"flux":1.70e-4},
      {"wl":2040,"flux":2.42e-4},{"wl":2044,"flux":1.20e-4},{"wl":2048,"flux":2.41e-4},{"wl":2052,"flux":1.85e-4},{"wl":2056,"flux":2.40e-4},{"wl":2060,"flux":1.60e-4},
      {"wl":2064,"flux":2.39e-4},{"wl":2068,"flux":1.90e-4},{"wl":2072,"flux":2.38e-4},{"wl":2076,"flux":1.40e-4},{"wl":2080,"flux":2.37e-4},{"wl":2084,"flux":1.75e-4},
      {"wl":2088,"flux":2.36e-4},{"wl":2092,"flux":1.55e-4},{"wl":2096,"flux":2.35e-4},{"wl":2100,"flux":1.85e-4},{"wl":2104,"flux":2.34e-4},{"wl":2108,"flux":1.30e-4},
      {"wl":2112,"flux":2.33e-4},{"wl":2116,"flux":1.70e-4},{"wl":2120,"flux":2.31e-4},{"wl":2124,"flux":1.50e-4},{"wl":2128,"flux":2.30e-4},{"wl":2132,"flux":1.80e-4},
      {"wl":2136,"flux":2.29e-4},{"wl":2140,"flux":1.10e-4},{"wl":2144,"flux":2.28e-4},{"wl":2148,"flux":1.60e-4},{"wl":2152,"flux":2.27e-4},{"wl":2156,"flux":1.35e-4},
      {"wl":2160,"flux":2.26e-4},{"wl":2164,"flux":1.65e-4},{"wl":2168,"flux":2.25e-4},{"wl":2172,"flux":0.80e-4},{"wl":2176,"flux":2.24e-4},{"wl":2180,"flux":1.50e-4},
      {"wl":2184,"flux":2.23e-4},{"wl":2188,"flux":1.20e-4},{"wl":2192,"flux":2.22e-4},{"wl":2196,"flux":1.55e-4},{"wl":2200,"flux":2.20e-4},{"wl":2204,"flux":1.00e-4},
      {"wl":2208,"flux":2.19e-4},{"wl":2212,"flux":1.45e-4},{"wl":2216,"flux":2.18e-4},{"wl":2220,"flux":1.15e-4},{"wl":2224,"flux":2.17e-4},{"wl":2228,"flux":1.50e-4},
      {"wl":2232,"flux":2.16e-4},{"wl":2236,"flux":0.85e-4},{"wl":2240,"flux":2.15e-4},{"wl":2244,"flux":1.35e-4},{"wl":2248,"flux":2.14e-4},{"wl":2252,"flux":1.05e-4},
      {"wl":2256,"flux":2.13e-4},{"wl":2260,"flux":1.40e-4},{"wl":2264,"flux":2.12e-4},{"wl":2268,"flux":0.75e-4},{"wl":2272,"flux":2.10e-4},{"wl":2276,"flux":1.25e-4},
      {"wl":2280,"flux":2.09e-4},{"wl":2284,"flux":1.00e-4},{"wl":2288,"flux":2.08e-4},{"wl":2292,"flux":1.30e-4},{"wl":2296,"flux":2.07e-4},{"wl":2300,"flux":0.65e-4},
      {"wl":2304,"flux":2.06e-4},{"wl":2308,"flux":1.20e-4},{"wl":2312,"flux":2.05e-4},{"wl":2316,"flux":0.95e-4},{"wl":2320,"flux":2.04e-4},{"wl":2324,"flux":1.25e-4},
      {"wl":2328,"flux":2.03e-4},{"wl":2332,"flux":0.55e-4},{"wl":2336,"flux":2.01e-4},{"wl":2340,"flux":1.10e-4},{"wl":2344,"flux":2.00e-4},{"wl":2348,"flux":0.90e-4},
      {"wl":2352,"flux":1.99e-4},{"wl":2356,"flux":1.20e-4},{"wl":2360,"flux":1.98e-4},{"wl":2364,"flux":0.45e-4},{"wl":2368,"flux":1.97e-4},{"wl":2372,"flux":1.05e-4},
      {"wl":2376,"flux":1.96e-4},{"wl":2380,"flux":0.85e-4},{"wl":2384,"flux":1.95e-4},{"wl":2388,"flux":1.15e-4},{"wl":2392,"flux":1.94e-4},{"wl":2396,"flux":0.32e-4},
      {"wl":2400,"flux":1.92e-4},{"wl":2404,"flux":1.00e-4},{"wl":2408,"flux":1.91e-4},{"wl":2412,"flux":0.80e-4},{"wl":2416,"flux":1.90e-4},{"wl":2420,"flux":1.10e-4},
      {"wl":2424,"flux":1.89e-4},{"wl":2428,"flux":0.60e-4},{"wl":2432,"flux":1.88e-4},{"wl":2436,"flux":1.00e-4},{"wl":2440,"flux":1.87e-4},{"wl":2444,"flux":0.75e-4},
      {"wl":2448,"flux":1.86e-4},{"wl":2452,"flux":1.05e-4},{"wl":2456,"flux":1.85e-4},{"wl":2460,"flux":0.40e-4},{"wl":2464,"flux":1.84e-4},{"wl":2468,"flux":0.95e-4},
      {"wl":2472,"flux":1.83e-4},{"wl":2476,"flux":0.70e-4},{"wl":2480,"flux":1.82e-4},{"wl":2484,"flux":1.00e-4},{"wl":2488,"flux":1.81e-4},{"wl":2492,"flux":0.85e-4},
      {"wl":2496,"flux":1.80e-4},{"wl":2500,"flux":1.05e-4},{"wl":2510,"flux":1.79e-4},{"wl":2587,"flux":0.95e-4},{"wl":2600,"flux":1.71e-4},{"wl":2700,"flux":1.63e-4},
      {"wl":2800,"flux":1.56e-4},{"wl":2900,"flux":1.50e-4},{"wl":3000,"flux":1.46e-4},{"wl":3100,"flux":1.00e-4},{"wl":3110,"flux":1.41e-4},{"wl":3200,"flux":1.36e-4},
      {"wl":3400,"flux":1.26e-4},{"wl":3600,"flux":1.16e-4},{"wl":3681,"flux":1.13e-4},{"wl":3701,"flux":0.70e-4},{"wl":3711,"flux":1.22e-4},{"wl":3721,"flux":0.75e-4},
      {"wl":3731,"flux":1.48e-4},{"wl":3742,"flux":0.70e-4},{"wl":3750,"flux":1.54e-4},{"wl":3760,"flux":0.56e-4},{"wl":3772,"flux":1.74e-4},{"wl":3784,"flux":0.62e-4},
      {"wl":3797,"flux":2.12e-4},{"wl":3811,"flux":0.60e-4},{"wl":3818,"flux":2.47e-4},{"wl":3835,"flux":0.60e-4},{"wl":3860,"flux":2.76e-4},{"wl":3873,"flux":2.27e-4},
      {"wl":3889,"flux":0.47e-4},{"wl":3926,"flux":2.89e-4},{"wl":3935,"flux":0.95e-4},{"wl":3944,"flux":2.69e-4},{"wl":3970,"flux":0.46e-4},{"wl":3995,"flux":2.60e-4},
      {"wl":4015,"flux":2.83e-4},{"wl":4046,"flux":2.78e-4},{"wl":4071,"flux":2.63e-4},{"wl":4101,"flux":0.49e-4},{"wl":4137,"flux":2.55e-4},{"wl":4157,"flux":2.58e-4},
      {"wl":4268,"flux":2.38e-4},{"wl":4304,"flux":2.22e-4},{"wl":4341,"flux":0.54e-4},{"wl":4380,"flux":2.17e-4},{"wl":4481,"flux":2.10e-4},{"wl":4583,"flux":1.97e-4},
      {"wl":4684,"flux":1.85e-4},{"wl":4785,"flux":1.72e-4},{"wl":4815,"flux":1.61e-4},{"wl":4861,"flux":0.42e-4},{"wl":4902,"flux":1.54e-4},{"wl":5000,"flux":1.51e-4}
    ],
    "p2_coelho": [
      {"wl":1800,"flux":0},{"wl":2499,"flux":0},{"wl":2500,"flux":1.81e-4},{"wl":2505,"flux":1.00e-4},{"wl":2510,"flux":1.80e-4},{"wl":2515,"flux":1.20e-4},
      {"wl":2520,"flux":1.80e-4},{"wl":2525,"flux":0.90e-4},{"wl":2530,"flux":1.79e-4},{"wl":2540,"flux":1.25e-4},{"wl":2550,"flux":1.78e-4},{"wl":2560,"flux":1.10e-4},
      {"wl":2570,"flux":1.77e-4},{"wl":2580,"flux":1.30e-4},{"wl":2587,"flux":0.54e-4},{"wl":2595,"flux":1.75e-4},{"wl":2605,"flux":1.15e-4},{"wl":2615,"flux":1.74e-4},
      {"wl":2625,"flux":1.30e-4},{"wl":2632,"flux":0.26e-4},{"wl":2640,"flux":1.72e-4},{"wl":2650,"flux":1.20e-4},{"wl":2660,"flux":1.71e-4},{"wl":2673,"flux":0.48e-4},
      {"wl":2685,"flux":1.69e-4},{"wl":2695,"flux":1.25e-4},{"wl":2705,"flux":0.32e-4},{"wl":2715,"flux":1.67e-4},{"wl":2725,"flux":1.15e-4},{"wl":2735,"flux":1.66e-4},
      {"wl":2746,"flux":0.70e-4},{"wl":2755,"flux":1.64e-4},{"wl":2765,"flux":1.20e-4},{"wl":2775,"flux":1.63e-4},{"wl":2785,"flux":1.10e-4},{"wl":2796,"flux":0.16e-4},
      {"wl":2805,"flux":1.61e-4},{"wl":2815,"flux":1.15e-4},{"wl":2825,"flux":1.60e-4},{"wl":2835,"flux":1.25e-4},{"wl":2845,"flux":1.59e-4},{"wl":2855,"flux":0.57e-4},
      {"wl":2865,"flux":1.57e-4},{"wl":2875,"flux":1.20e-4},{"wl":2887,"flux":0.90e-4},{"wl":2895,"flux":1.55e-4},{"wl":2905,"flux":1.10e-4},{"wl":2915,"flux":1.54e-4},
      {"wl":2925,"flux":1.25e-4},{"wl":2938,"flux":0.80e-4},{"wl":2945,"flux":1.52e-4},{"wl":2955,"flux":1.15e-4},{"wl":2965,"flux":1.51e-4},{"wl":2975,"flux":1.05e-4},
      {"wl":2985,"flux":1.50e-4},{"wl":2995,"flux":1.20e-4},{"wl":3005,"flux":1.48e-4},{"wl":3020,"flux":1.15e-4},{"wl":3030,"flux":1.46e-4},{"wl":3040,"flux":1.20e-4},
      {"wl":3050,"flux":1.45e-4},{"wl":3060,"flux":0.95e-4},{"wl":3070,"flux":1.44e-4},{"wl":3080,"flux":1.22e-4},{"wl":3090,"flux":1.43e-4},{"wl":3100,"flux":1.10e-4},
      {"wl":3110,"flux":1.42e-4},{"wl":3120,"flux":1.18e-4},{"wl":3130,"flux":1.41e-4},{"wl":3140,"flux":0.85e-4},{"wl":3150,"flux":1.40e-4},{"wl":3160,"flux":1.15e-4},
      {"wl":3170,"flux":1.39e-4},{"wl":3180,"flux":1.05e-4},{"wl":3190,"flux":1.38e-4},{"wl":3200,"flux":1.17e-4},{"wl":3210,"flux":1.37e-4},{"wl":3220,"flux":0.80e-4},
      {"wl":3230,"flux":1.36e-4},{"wl":3240,"flux":1.12e-4},{"wl":3250,"flux":1.35e-4},{"wl":3260,"flux":1.08e-4},{"wl":3270,"flux":1.34e-4},{"wl":3280,"flux":1.15e-4},
      {"wl":3290,"flux":1.33e-4},{"wl":3300,"flux":0.90e-4},{"wl":3310,"flux":1.32e-4},{"wl":3320,"flux":1.10e-4},{"wl":3330,"flux":1.31e-4},{"wl":3340,"flux":1.05e-4},
      {"wl":3350,"flux":1.30e-4},{"wl":3360,"flux":1.12e-4},{"wl":3370,"flux":1.29e-4},{"wl":3380,"flux":0.85e-4},{"wl":3390,"flux":1.28e-4},{"wl":3400,"flux":1.08e-4},
      {"wl":3410,"flux":1.27e-4},{"wl":3420,"flux":1.00e-4},{"wl":3430,"flux":1.26e-4},{"wl":3440,"flux":1.06e-4},{"wl":3450,"flux":1.25e-4},{"wl":3460,"flux":0.95e-4},
      {"wl":3470,"flux":1.24e-4},{"wl":3480,"flux":1.05e-4},{"wl":3490,"flux":1.23e-4},{"wl":3500,"flux":1.00e-4},{"wl":3510,"flux":1.22e-4},{"wl":3520,"flux":1.02e-4},
      {"wl":3530,"flux":1.21e-4},{"wl":3540,"flux":0.90e-4},{"wl":3550,"flux":1.20e-4},{"wl":3560,"flux":1.00e-4},{"wl":3570,"flux":1.18e-4},{"wl":3580,"flux":0.98e-4},
      {"wl":3590,"flux":1.17e-4},{"wl":3600,"flux":0.98e-4},{"wl":3610,"flux":1.16e-4},{"wl":3620,"flux":0.95e-4},{"wl":3630,"flux":1.15e-4},{"wl":3640,"flux":0.97e-4},
      {"wl":3650,"flux":1.14e-4},{"wl":3660,"flux":1.00e-4},{"wl":3670,"flux":1.13e-4},{"wl":3681,"flux":1.12e-4},{"wl":3695,"flux":0.95e-4},{"wl":3701,"flux":0.76e-4},
      {"wl":3711,"flux":1.21e-4},{"wl":3721,"flux":0.77e-4},{"wl":3731,"flux":1.47e-4},{"wl":3742,"flux":0.72e-4},{"wl":3750,"flux":1.53e-4},{"wl":3760,"flux":0.58e-4},
      {"wl":3772,"flux":1.73e-4},{"wl":3784,"flux":0.64e-4},{"wl":3797,"flux":2.11e-4},{"wl":3811,"flux":0.61e-4},{"wl":3818,"flux":2.46e-4},{"wl":3835,"flux":0.62e-4},
      {"wl":3848,"flux":2.60e-4},{"wl":3860,"flux":2.75e-4},{"wl":3873,"flux":2.27e-4},{"wl":3889,"flux":0.48e-4},{"wl":3909,"flux":2.59e-4},{"wl":3926,"flux":2.88e-4},
      {"wl":3944,"flux":2.68e-4},{"wl":3955,"flux":2.00e-4},{"wl":3970,"flux":0.47e-4},{"wl":3985,"flux":2.00e-4},{"wl":3995,"flux":2.59e-4},{"wl":4015,"flux":2.81e-4},
      {"wl":4046,"flux":2.77e-4},{"wl":4071,"flux":2.62e-4},{"wl":4088,"flux":2.11e-4},{"wl":4101,"flux":0.51e-4},{"wl":4117,"flux":2.11e-4},{"wl":4137,"flux":2.54e-4},
      {"wl":4157,"flux":2.57e-4},{"wl":4173,"flux":2.55e-4},{"wl":4177,"flux":1.63e-4},{"wl":4181,"flux":2.54e-4},{"wl":4208,"flux":2.49e-4},{"wl":4268,"flux":2.37e-4},
      {"wl":4293,"flux":2.28e-4},{"wl":4297,"flux":1.63e-4},{"wl":4301,"flux":2.24e-4},{"wl":4324,"flux":1.79e-4},{"wl":4341,"flux":0.58e-4},{"wl":4358,"flux":1.79e-4},
      {"wl":4380,"flux":2.16e-4},{"wl":4386,"flux":2.17e-4},{"wl":4390,"flux":1.18e-4},{"wl":4394,"flux":2.18e-4},{"wl":4400,"flux":2.19e-4},{"wl":4475,"flux":2.10e-4},
      {"wl":4479,"flux":1.25e-4},{"wl":4483,"flux":2.09e-4},{"wl":4583,"flux":1.96e-4},{"wl":4629,"flux":1.90e-4},{"wl":4633,"flux":1.69e-4},{"wl":4637,"flux":1.89e-4},
      {"wl":4684,"flux":1.84e-4},{"wl":4785,"flux":1.71e-4},{"wl":4815,"flux":1.60e-4},{"wl":4841,"flux":1.15e-4},{"wl":4861,"flux":0.43e-4},{"wl":4882,"flux":1.15e-4},
      {"wl":4902,"flux":1.53e-4},{"wl":4924,"flux":1.57e-4},{"wl":4928,"flux":1.00e-4},{"wl":4932,"flux":1.56e-4},{"wl":5000,"flux":1.50e-4}
    ],
    "p2_basel": [
      {"wl":1801,"flux":2.33e-4},{"wl":1819,"flux":2.21e-4},{"wl":1833,"flux":2.11e-4},{"wl":1844,"flux":1.95e-4},{"wl":1855,"flux":2.05e-4},{"wl":1869,"flux":2.05e-4},
      {"wl":1878,"flux":2.13e-4},{"wl":1892,"flux":2.09e-4},{"wl":1906,"flux":2.01e-4},{"wl":1919,"flux":2.09e-4},{"wl":1933,"flux":2.01e-4},{"wl":1947,"flux":2.11e-4},
      {"wl":1956,"flux":2.05e-4},{"wl":1968,"flux":2.14e-4},{"wl":1983,"flux":2.05e-4},{"wl":2001,"flux":1.95e-4},{"wl":2019,"flux":1.89e-4},{"wl":2038,"flux":1.95e-4},
      {"wl":2061,"flux":1.89e-4},{"wl":2079,"flux":1.96e-4},{"wl":2098,"flux":1.84e-4},{"wl":2116,"flux":1.82e-4},{"wl":2134,"flux":1.79e-4},{"wl":2148,"flux":1.79e-4},
      {"wl":2166,"flux":1.69e-4},{"wl":2189,"flux":1.76e-4},{"wl":2207,"flux":1.66e-4},{"wl":2235,"flux":1.71e-4},{"wl":2253,"flux":1.57e-4},{"wl":2280,"flux":1.63e-4},
      {"wl":2298,"flux":1.53e-4},{"wl":2321,"flux":1.28e-4},{"wl":2335,"flux":1.41e-4},{"wl":2351,"flux":1.47e-4},{"wl":2367,"flux":1.34e-4},{"wl":2385,"flux":1.25e-4},
      {"wl":2399,"flux":1.38e-4},{"wl":2417,"flux":1.30e-4},{"wl":2435,"flux":1.38e-4},{"wl":2454,"flux":1.33e-4},{"wl":2472,"flux":1.28e-4},{"wl":2486,"flux":1.33e-4},
      {"wl":2504,"flux":1.30e-4},{"wl":2522,"flux":1.23e-4},{"wl":2536,"flux":1.21e-4},{"wl":2563,"flux":1.28e-4},{"wl":2581,"flux":1.33e-4},{"wl":2600,"flux":1.41e-4},
      {"wl":2618,"flux":1.31e-4},{"wl":2645,"flux":1.39e-4},{"wl":2673,"flux":1.30e-4},{"wl":2700,"flux":1.36e-4},{"wl":2728,"flux":1.28e-4},{"wl":2764,"flux":1.20e-4},
      {"wl":2782,"flux":1.22e-4},{"wl":2796,"flux":0.86e-4},{"wl":2819,"flux":1.28e-4},{"wl":2846,"flux":1.25e-4},{"wl":2874,"flux":1.28e-4},{"wl":2901,"flux":1.26e-4},
      {"wl":2938,"flux":1.26e-4},{"wl":2974,"flux":1.25e-4},{"wl":3010,"flux":1.26e-4},{"wl":3100,"flux":1.22e-4},{"wl":3200,"flux":1.20e-4},{"wl":3300,"flux":1.16e-4},
      {"wl":3400,"flux":1.14e-4},{"wl":3500,"flux":1.10e-4},{"wl":3569,"flux":1.07e-4},{"wl":3650,"flux":1.06e-4},{"wl":3686,"flux":0.96e-4},{"wl":3726,"flux":0.99e-4},
      {"wl":3752,"flux":1.21e-4},{"wl":3767,"flux":1.25e-4},{"wl":3807,"flux":1.84e-4},{"wl":3830,"flux":1.47e-4},{"wl":3868,"flux":2.38e-4},{"wl":3889,"flux":1.25e-4},
      {"wl":3914,"flux":2.40e-4},{"wl":3929,"flux":2.44e-4},{"wl":3946,"flux":2.38e-4},{"wl":3970,"flux":1.21e-4},{"wl":3990,"flux":2.27e-4},{"wl":4015,"flux":2.65e-4},
      {"wl":4030,"flux":2.66e-4},{"wl":4051,"flux":2.62e-4},{"wl":4071,"flux":2.48e-4},{"wl":4091,"flux":1.86e-4},{"wl":4106,"flux":1.34e-4},{"wl":4127,"flux":1.82e-4},
      {"wl":4147,"flux":2.46e-4},{"wl":4177,"flux":2.44e-4},{"wl":4228,"flux":2.37e-4},{"wl":4279,"flux":2.25e-4},{"wl":4314,"flux":2.04e-4},{"wl":4347,"flux":1.31e-4},
      {"wl":4370,"flux":2.01e-4},{"wl":4390,"flux":2.09e-4},{"wl":4441,"flux":2.08e-4},{"wl":4502,"flux":2.00e-4},{"wl":4552,"flux":1.93e-4},{"wl":4603,"flux":1.87e-4},
      {"wl":4664,"flux":1.81e-4},{"wl":4714,"flux":1.74e-4},{"wl":4765,"flux":1.69e-4},{"wl":4800,"flux":1.63e-4},{"wl":4831,"flux":1.44e-4},{"wl":4864,"flux":0.89e-4},
      {"wl":4892,"flux":1.41e-4},{"wl":4917,"flux":1.52e-4},{"wl":4957,"flux":1.52e-4},{"wl":5001,"flux":1.47e-4}
    ],
    "p3_ckc": [
      {"wl":3000,"CKC":0.04e-5,"C3K":0.04e-5},{"wl":3050,"CKC":0.08e-5,"C3K":0.08e-5},{"wl":3100,"CKC":0.05e-5,"C3K":0.05e-5},{"wl":3150,"CKC":0.14e-5,"C3K":0.14e-5},
      {"wl":3200,"CKC":0.08e-5,"C3K":0.08e-5},{"wl":3250,"CKC":0.22e-5,"C3K":0.22e-5},{"wl":3300,"CKC":0.12e-5,"C3K":0.12e-5},{"wl":3350,"CKC":0.30e-5,"C3K":0.30e-5},
      {"wl":3400,"CKC":0.15e-5,"C3K":0.15e-5},{"wl":3450,"CKC":0.45e-5,"C3K":0.45e-5},{"wl":3500,"CKC":0.20e-5,"C3K":0.20e-5},{"wl":3530,"CKC":0.65e-5,"C3K":0.65e-5},
      {"wl":3560,"CKC":0.25e-5,"C3K":0.25e-5},{"wl":3600,"CKC":0.50e-5,"C3K":0.50e-5},{"wl":3640,"CKC":0.30e-5,"C3K":0.30e-5},{"wl":3670,"CKC":0.95e-5,"C3K":0.95e-5},
      {"wl":3700,"CKC":0.35e-5,"C3K":0.35e-5},{"wl":3740,"CKC":0.70e-5,"C3K":0.70e-5},{"wl":3770,"CKC":1.55e-5,"C3K":1.62e-5},{"wl":3800,"CKC":0.50e-5,"C3K":0.50e-5},
      {"wl":3830,"CKC":1.20e-5,"C3K":1.20e-5},{"wl":3860,"CKC":0.40e-5,"C3K":0.40e-5},{"wl":3890,"CKC":0.90e-5,"C3K":0.90e-5},{"wl":3920,"CKC":0.30e-5,"C3K":0.30e-5},
      {"wl":3950,"CKC":0.80e-5,"C3K":0.80e-5},{"wl":3980,"CKC":0.50e-5,"C3K":0.50e-5},{"wl":4000,"CKC":2.30e-5,"C3K":2.40e-5},{"wl":4030,"CKC":0.80e-5,"C3K":0.80e-5},
      {"wl":4060,"CKC":2.45e-5,"C3K":2.55e-5},{"wl":4090,"CKC":1.00e-5,"C3K":1.00e-5},{"wl":4120,"CKC":2.00e-5,"C3K":2.00e-5},{"wl":4150,"CKC":0.70e-5,"C3K":0.70e-5},
      {"wl":4180,"CKC":1.60e-5,"C3K":1.60e-5},{"wl":4200,"CKC":0.20e-5,"C3K":0.20e-5},{"wl":4220,"CKC":1.00e-5,"C3K":1.00e-5},{"wl":4240,"CKC":0.60e-5,"C3K":0.60e-5},
      {"wl":4260,"CKC":2.20e-5,"C3K":2.20e-5},{"wl":4280,"CKC":1.10e-5,"C3K":1.10e-5},{"wl":4300,"CKC":2.60e-5,"C3K":2.60e-5},{"wl":4320,"CKC":1.30e-5,"C3K":1.30e-5},
      {"wl":4340,"CKC":2.70e-5,"C3K":2.70e-5},{"wl":4360,"CKC":1.60e-5,"C3K":1.60e-5},{"wl":4380,"CKC":2.75e-5,"C3K":2.75e-5},{"wl":4400,"CKC":1.80e-5,"C3K":1.80e-5},
      {"wl":4420,"CKC":2.80e-5,"C3K":2.80e-5},{"wl":4440,"CKC":1.65e-5,"C3K":1.65e-5},{"wl":4460,"CKC":2.85e-5,"C3K":2.85e-5},{"wl":4480,"CKC":1.75e-5,"C3K":1.75e-5},
      {"wl":4500,"CKC":2.80e-5,"C3K":2.80e-5},{"wl":4520,"CKC":1.60e-5,"C3K":1.60e-5},{"wl":4540,"CKC":2.90e-5,"C3K":2.90e-5},{"wl":4560,"CKC":1.80e-5,"C3K":1.80e-5},
      {"wl":4580,"CKC":2.95e-5,"C3K":2.95e-5},{"wl":4600,"CKC":1.70e-5,"C3K":1.70e-5},{"wl":4620,"CKC":3.00e-5,"C3K":3.00e-5},{"wl":4640,"CKC":1.85e-5,"C3K":1.85e-5},
      {"wl":4660,"CKC":2.95e-5,"C3K":2.95e-5},{"wl":4680,"CKC":1.70e-5,"C3K":1.70e-5},{"wl":4700,"CKC":3.05e-5,"C3K":3.15e-5},{"wl":4720,"CKC":1.60e-5,"C3K":1.60e-5},
      {"wl":4735,"CKC":3.20e-5,"C3K":3.35e-5},{"wl":4750,"CKC":1.20e-5,"C3K":1.20e-5},{"wl":4760,"CKC":0.80e-5,"C3K":0.80e-5},{"wl":4780,"CKC":1.90e-5,"C3K":1.90e-5},
      {"wl":4800,"CKC":1.00e-5,"C3K":1.00e-5},{"wl":4820,"CKC":2.20e-5,"C3K":2.20e-5},{"wl":4840,"CKC":1.20e-5,"C3K":1.20e-5},{"wl":4860,"CKC":2.70e-5,"C3K":2.85e-5},
      {"wl":4880,"CKC":1.40e-5,"C3K":1.40e-5},{"wl":4900,"CKC":3.00e-5,"C3K":3.00e-5},{"wl":4920,"CKC":1.50e-5,"C3K":1.50e-5},{"wl":4940,"CKC":3.30e-5,"C3K":3.42e-5},
      {"wl":4960,"CKC":1.60e-5,"C3K":1.60e-5},{"wl":4970,"CKC":3.60e-5,"C3K":3.75e-5},{"wl":4990,"CKC":0.90e-5,"C3K":0.90e-5},{"wl":5010,"CKC":2.90e-5,"C3K":2.90e-5},
      {"wl":5030,"CKC":1.60e-5,"C3K":1.60e-5},{"wl":5050,"CKC":3.00e-5,"C3K":3.00e-5},{"wl":5070,"CKC":1.70e-5,"C3K":1.70e-5},{"wl":5090,"CKC":3.15e-5,"C3K":3.15e-5},
      {"wl":5110,"CKC":1.80e-5,"C3K":1.80e-5},{"wl":5130,"CKC":3.30e-5,"C3K":3.30e-5},{"wl":5150,"CKC":1.90e-5,"C3K":1.90e-5},{"wl":5170,"CKC":3.60e-5,"C3K":3.60e-5},
      {"wl":5190,"CKC":2.00e-5,"C3K":2.00e-5},{"wl":5210,"CKC":4.10e-5,"C3K":4.22e-5},{"wl":5230,"CKC":2.10e-5,"C3K":2.10e-5},{"wl":5250,"CKC":4.70e-5,"C3K":4.85e-5},
      {"wl":5270,"CKC":2.20e-5,"C3K":2.20e-5},{"wl":5290,"CKC":4.80e-5,"C3K":4.95e-5},{"wl":5310,"CKC":2.10e-5,"C3K":2.10e-5},{"wl":5330,"CKC":4.50e-5,"C3K":4.50e-5},
      {"wl":5350,"CKC":1.90e-5,"C3K":1.90e-5},{"wl":5370,"CKC":3.90e-5,"C3K":3.90e-5},{"wl":5390,"CKC":1.80e-5,"C3K":1.80e-5},{"wl":5410,"CKC":3.80e-5,"C3K":3.80e-5},
      {"wl":5430,"CKC":2.00e-5,"C3K":2.00e-5},{"wl":5450,"CKC":4.40e-5,"C3K":4.40e-5},{"wl":5470,"CKC":2.20e-5,"C3K":2.20e-5},{"wl":5490,"CKC":4.50e-5,"C3K":4.60e-5},
      {"wl":5510,"CKC":2.40e-5,"C3K":2.40e-5},{"wl":5530,"CKC":4.60e-5,"C3K":4.60e-5},{"wl":5550,"CKC":2.60e-5,"C3K":2.60e-5},{"wl":5570,"CKC":4.70e-5,"C3K":4.70e-5},
      {"wl":5590,"CKC":2.70e-5,"C3K":2.70e-5},{"wl":5610,"CKC":4.85e-5,"C3K":4.85e-5},{"wl":5630,"CKC":2.80e-5,"C3K":2.80e-5},{"wl":5650,"CKC":4.90e-5,"C3K":4.90e-5},
      {"wl":5670,"CKC":2.70e-5,"C3K":2.70e-5},{"wl":5690,"CKC":5.00e-5,"C3K":5.12e-5},{"wl":5710,"CKC":2.60e-5,"C3K":2.60e-5},{"wl":5730,"CKC":4.95e-5,"C3K":4.95e-5},
      {"wl":5750,"CKC":2.50e-5,"C3K":2.50e-5},{"wl":5770,"CKC":4.90e-5,"C3K":4.90e-5},{"wl":5790,"CKC":2.40e-5,"C3K":2.40e-5},{"wl":5810,"CKC":4.90e-5,"C3K":4.90e-5},
      {"wl":5830,"CKC":2.50e-5,"C3K":2.50e-5},{"wl":5850,"CKC":4.75e-5,"C3K":4.75e-5},{"wl":5870,"CKC":2.20e-5,"C3K":2.20e-5},{"wl":5883,"CKC":1.30e-5,"C3K":1.30e-5},
      {"wl":5900,"CKC":3.30e-5,"C3K":3.30e-5},{"wl":5920,"CKC":2.00e-5,"C3K":2.00e-5},{"wl":5940,"CKC":3.80e-5,"C3K":3.80e-5},{"wl":5960,"CKC":2.40e-5,"C3K":2.40e-5},
      {"wl":5980,"CKC":4.30e-5,"C3K":4.40e-5},{"wl":6000,"CKC":2.60e-5,"C3K":2.60e-5},{"wl":6020,"CKC":4.60e-5,"C3K":4.60e-5},{"wl":6040,"CKC":2.90e-5,"C3K":2.90e-5},
      {"wl":6060,"CKC":4.90e-5,"C3K":5.02e-5},{"wl":6080,"CKC":3.00e-5,"C3K":3.00e-5},{"wl":6100,"CKC":5.20e-5,"C3K":5.20e-5},{"wl":6120,"CKC":3.20e-5,"C3K":3.20e-5},
      {"wl":6140,"CKC":5.80e-5,"C3K":5.95e-5},{"wl":6160,"CKC":3.30e-5,"C3K":3.30e-5},{"wl":6180,"CKC":5.30e-5,"C3K":5.30e-5},{"wl":6200,"CKC":3.50e-5,"C3K":3.50e-5},
      {"wl":6220,"CKC":5.20e-5,"C3K":5.20e-5},{"wl":6240,"CKC":3.60e-5,"C3K":3.60e-5},{"wl":6260,"CKC":5.10e-5,"C3K":5.10e-5},{"wl":6280,"CKC":3.40e-5,"C3K":3.40e-5},
      {"wl":6300,"CKC":5.30e-5,"C3K":5.30e-5},{"wl":6320,"CKC":3.50e-5,"C3K":3.50e-5},{"wl":6340,"CKC":5.50e-5,"C3K":5.60e-5},{"wl":6360,"CKC":3.70e-5,"C3K":3.70e-5},
      {"wl":6380,"CKC":5.80e-5,"C3K":5.90e-5},{"wl":6400,"CKC":3.80e-5,"C3K":3.80e-5},{"wl":6420,"CKC":5.90e-5,"C3K":5.90e-5},{"wl":6440,"CKC":3.60e-5,"C3K":3.60e-5},
      {"wl":6460,"CKC":5.95e-5,"C3K":5.95e-5},{"wl":6480,"CKC":3.50e-5,"C3K":3.50e-5},{"wl":6500,"CKC":6.00e-5,"C3K":6.12e-5},{"wl":6520,"CKC":3.60e-5,"C3K":3.60e-5},
      {"wl":6540,"CKC":5.85e-5,"C3K":5.85e-5},{"wl":6560,"CKC":3.70e-5,"C3K":3.70e-5},{"wl":6580,"CKC":5.70e-5,"C3K":5.70e-5},{"wl":6600,"CKC":3.60e-5,"C3K":3.60e-5},
      {"wl":6620,"CKC":5.60e-5,"C3K":5.60e-5},{"wl":6640,"CKC":3.40e-5,"C3K":3.40e-5},{"wl":6660,"CKC":5.10e-5,"C3K":5.10e-5},{"wl":6680,"CKC":3.20e-5,"C3K":3.20e-5},
      {"wl":6700,"CKC":4.60e-5,"C3K":4.60e-5},{"wl":6720,"CKC":3.00e-5,"C3K":3.00e-5},{"wl":6740,"CKC":4.30e-5,"C3K":4.30e-5},{"wl":6760,"CKC":3.00e-5,"C3K":3.00e-5},
      {"wl":6780,"CKC":4.35e-5,"C3K":4.35e-5},{"wl":6800,"CKC":3.10e-5,"C3K":3.10e-5},{"wl":6820,"CKC":4.60e-5,"C3K":4.60e-5},{"wl":6840,"CKC":3.20e-5,"C3K":3.20e-5},
      {"wl":6860,"CKC":5.60e-5,"C3K":5.60e-5},{"wl":6880,"CKC":3.30e-5,"C3K":3.30e-5},{"wl":6900,"CKC":5.80e-5,"C3K":5.80e-5},{"wl":6920,"CKC":3.40e-5,"C3K":3.40e-5},
      {"wl":6940,"CKC":5.90e-5,"C3K":6.00e-5},{"wl":6960,"CKC":3.50e-5,"C3K":3.50e-5},{"wl":6980,"CKC":6.20e-5,"C3K":6.20e-5},{"wl":7000,"CKC":4.00e-5,"C3K":4.00e-5},
      {"wl":7020,"CKC":7.20e-5,"C3K":7.20e-5},{"wl":7033,"CKC":7.70e-5,"C3K":7.85e-5},{"wl":7050,"CKC":4.20e-5,"C3K":4.20e-5},{"wl":7070,"CKC":4.80e-5,"C3K":4.80e-5},
      {"wl":7090,"CKC":3.20e-5,"C3K":3.20e-5},{"wl":7110,"CKC":3.60e-5,"C3K":3.60e-5},{"wl":7124,"CKC":2.66e-5,"C3K":2.66e-5},{"wl":7140,"CKC":4.20e-5,"C3K":4.20e-5},
      {"wl":7160,"CKC":3.40e-5,"C3K":3.40e-5},{"wl":7180,"CKC":4.80e-5,"C3K":4.80e-5},{"wl":7200,"CKC":3.60e-5,"C3K":3.60e-5},{"wl":7220,"CKC":5.60e-5,"C3K":5.70e-5},
      {"wl":7240,"CKC":4.00e-5,"C3K":4.00e-5},{"wl":7260,"CKC":6.40e-5,"C3K":6.40e-5},{"wl":7280,"CKC":4.40e-5,"C3K":4.40e-5},{"wl":7300,"CKC":7.00e-5,"C3K":7.10e-5},
      {"wl":7320,"CKC":5.00e-5,"C3K":5.00e-5},{"wl":7340,"CKC":8.10e-5,"C3K":8.25e-5},{"wl":7360,"CKC":5.50e-5,"C3K":5.50e-5},{"wl":7380,"CKC":8.30e-5,"C3K":8.42e-5},
      {"wl":7400,"CKC":5.80e-5,"C3K":5.80e-5},{"wl":7420,"CKC":8.25e-5,"C3K":8.25e-5},{"wl":7440,"CKC":6.00e-5,"C3K":6.00e-5},{"wl":7460,"CKC":8.20e-5,"C3K":8.20e-5},
      {"wl":7480,"CKC":6.00e-5,"C3K":6.00e-5},{"wl":7500,"CKC":8.25e-5,"C3K":8.38e-5},{"wl":7520,"CKC":5.90e-5,"C3K":5.90e-5},{"wl":7540,"CKC":8.20e-5,"C3K":8.20e-5},
      {"wl":7560,"CKC":5.50e-5,"C3K":5.50e-5},{"wl":7580,"CKC":7.80e-5,"C3K":7.80e-5},{"wl":7600,"CKC":4.80e-5,"C3K":4.80e-5},{"wl":7620,"CKC":6.60e-5,"C3K":6.60e-5},
      {"wl":7640,"CKC":4.20e-5,"C3K":4.20e-5},{"wl":7660,"CKC":5.20e-5,"C3K":5.20e-5},{"wl":7680,"CKC":3.20e-5,"C3K":3.20e-5},{"wl":7700,"CKC":5.30e-5,"C3K":5.30e-5},
      {"wl":7720,"CKC":3.80e-5,"C3K":3.80e-5},{"wl":7740,"CKC":5.80e-5,"C3K":5.80e-5},{"wl":7760,"CKC":4.00e-5,"C3K":4.00e-5},{"wl":7780,"CKC":6.30e-5,"C3K":6.40e-5},
      {"wl":7800,"CKC":4.20e-5,"C3K":4.20e-5},{"wl":7820,"CKC":6.70e-5,"C3K":6.70e-5},{"wl":7840,"CKC":4.40e-5,"C3K":4.40e-5},{"wl":7860,"CKC":7.10e-5,"C3K":7.20e-5},
      {"wl":7880,"CKC":4.60e-5,"C3K":4.60e-5},{"wl":7900,"CKC":7.40e-5,"C3K":7.55e-5},{"wl":7920,"CKC":5.00e-5,"C3K":5.00e-5},{"wl":7940,"CKC":7.50e-5,"C3K":7.50e-5},
      {"wl":7960,"CKC":5.10e-5,"C3K":5.10e-5},{"wl":7980,"CKC":7.60e-5,"C3K":7.60e-5},{"wl":8000,"CKC":5.20e-5,"C3K":5.20e-5},{"wl":8020,"CKC":7.90e-5,"C3K":8.00e-5},
      {"wl":8040,"CKC":5.40e-5,"C3K":5.40e-5},{"wl":8060,"CKC":8.30e-5,"C3K":8.42e-5},{"wl":8080,"CKC":5.50e-5,"C3K":5.50e-5},{"wl":8100,"CKC":8.30e-5,"C3K":8.30e-5},
      {"wl":8120,"CKC":5.70e-5,"C3K":5.70e-5},{"wl":8140,"CKC":8.30e-5,"C3K":8.30e-5},{"wl":8160,"CKC":5.80e-5,"C3K":5.80e-5},{"wl":8180,"CKC":8.25e-5,"C3K":8.25e-5},
      {"wl":8200,"CKC":5.60e-5,"C3K":5.60e-5},{"wl":8220,"CKC":8.15e-5,"C3K":8.15e-5},{"wl":8240,"CKC":5.70e-5,"C3K":5.70e-5},{"wl":8260,"CKC":8.10e-5,"C3K":8.20e-5},
      {"wl":8280,"CKC":5.80e-5,"C3K":5.80e-5},{"wl":8300,"CKC":8.00e-5,"C3K":8.00e-5},{"wl":8320,"CKC":5.30e-5,"C3K":5.30e-5},{"wl":8340,"CKC":7.90e-5,"C3K":7.90e-5},
      {"wl":8360,"CKC":5.10e-5,"C3K":5.10e-5},{"wl":8380,"CKC":7.85e-5,"C3K":7.85e-5},{"wl":8400,"CKC":5.00e-5,"C3K":5.00e-5},{"wl":8420,"CKC":7.80e-5,"C3K":7.90e-5},
      {"wl":8440,"CKC":4.90e-5,"C3K":4.90e-5},{"wl":8460,"CKC":7.75e-5,"C3K":7.75e-5},{"wl":8480,"CKC":4.60e-5,"C3K":4.60e-5},{"wl":8492,"CKC":4.20e-5,"C3K":4.20e-5},
      {"wl":8510,"CKC":7.90e-5,"C3K":7.90e-5},{"wl":8530,"CKC":5.20e-5,"C3K":5.20e-5},{"wl":8550,"CKC":8.00e-5,"C3K":8.00e-5},{"wl":8570,"CKC":5.40e-5,"C3K":5.40e-5},
      {"wl":8590,"CKC":8.10e-5,"C3K":8.22e-5},{"wl":8610,"CKC":5.50e-5,"C3K":5.50e-5},{"wl":8630,"CKC":8.25e-5,"C3K":8.25e-5},{"wl":8650,"CKC":5.70e-5,"C3K":5.70e-5},
      {"wl":8670,"CKC":8.30e-5,"C3K":8.30e-5},{"wl":8690,"CKC":5.90e-5,"C3K":5.90e-5},{"wl":8710,"CKC":8.40e-5,"C3K":8.40e-5},{"wl":8730,"CKC":6.00e-5,"C3K":6.00e-5},
      {"wl":8750,"CKC":8.45e-5,"C3K":8.55e-5},{"wl":8770,"CKC":6.10e-5,"C3K":6.10e-5},{"wl":8790,"CKC":8.45e-5,"C3K":8.45e-5},{"wl":8810,"CKC":6.20e-5,"C3K":6.20e-5},
      {"wl":8830,"CKC":8.48e-5,"C3K":8.60e-5},{"wl":8850,"CKC":6.20e-5,"C3K":6.20e-5},{"wl":8867,"CKC":4.76e-5,"C3K":4.76e-5},{"wl":8880,"CKC":7.50e-5,"C3K":7.50e-5},
      {"wl":8900,"CKC":4.50e-5,"C3K":4.50e-5},{"wl":8920,"CKC":6.90e-5,"C3K":6.90e-5},{"wl":8940,"CKC":4.00e-5,"C3K":4.00e-5},{"wl":8960,"CKC":6.80e-5,"C3K":6.80e-5},
      {"wl":8975,"CKC":3.70e-5,"C3K":3.70e-5},{"wl":8990,"CKC":6.50e-5,"C3K":6.50e-5},{"wl":9003,"CKC":8.00e-5,"C3K":8.10e-5},{"wl":9030,"CKC":6.80e-5,"C3K":6.80e-5},
      {"wl":9060,"CKC":8.30e-5,"C3K":8.30e-5},{"wl":9090,"CKC":7.00e-5,"C3K":7.00e-5},{"wl":9120,"CKC":8.30e-5,"C3K":8.30e-5},{"wl":9150,"CKC":7.30e-5,"C3K":7.30e-5},
      {"wl":9180,"CKC":8.30e-5,"C3K":8.38e-5},{"wl":9210,"CKC":7.10e-5,"C3K":7.10e-5},{"wl":9240,"CKC":8.25e-5,"C3K":8.25e-5},{"wl":9270,"CKC":6.90e-5,"C3K":6.90e-5},
      {"wl":9300,"CKC":8.25e-5,"C3K":8.25e-5},{"wl":9340,"CKC":7.30e-5,"C3K":7.30e-5},{"wl":9380,"CKC":8.20e-5,"C3K":8.20e-5},{"wl":9420,"CKC":7.00e-5,"C3K":7.00e-5},
      {"wl":9460,"CKC":8.20e-5,"C3K":8.20e-5},{"wl":9500,"CKC":7.20e-5,"C3K":7.20e-5},{"wl":9540,"CKC":8.20e-5,"C3K":8.20e-5},{"wl":9580,"CKC":7.30e-5,"C3K":7.30e-5},
      {"wl":9637,"CKC":5.23e-5,"C3K":5.23e-5},{"wl":9660,"CKC":8.15e-5,"C3K":8.15e-5},{"wl":9700,"CKC":7.20e-5,"C3K":7.20e-5},{"wl":9740,"CKC":8.10e-5,"C3K":8.10e-5},
      {"wl":9787,"CKC":5.00e-5,"C3K":4.90e-5},{"wl":9820,"CKC":8.00e-5,"C3K":8.00e-5},{"wl":9860,"CKC":7.00e-5,"C3K":7.00e-5},{"wl":9900,"CKC":7.95e-5,"C3K":7.95e-5},
      {"wl":9950,"CKC":6.60e-5,"C3K":6.60e-5},{"wl":10000,"CKC":7.90e-5,"C3K":7.90e-5},{"wl":10050,"CKC":7.00e-5,"C3K":7.00e-5},{"wl":10100,"CKC":7.85e-5,"C3K":7.85e-5},
      {"wl":10150,"CKC":7.20e-5,"C3K":7.20e-5},{"wl":10200,"CKC":7.80e-5,"C3K":7.80e-5},{"wl":10250,"CKC":7.10e-5,"C3K":7.10e-5},{"wl":10300,"CKC":7.70e-5,"C3K":7.70e-5},
      {"wl":10350,"CKC":7.20e-5,"C3K":7.20e-5},{"wl":10400,"CKC":7.65e-5,"C3K":7.65e-5},{"wl":10450,"CKC":7.00e-5,"C3K":7.00e-5},{"wl":10500,"CKC":7.55e-5,"C3K":7.55e-5},
      {"wl":10550,"CKC":7.10e-5,"C3K":7.10e-5},{"wl":10600,"CKC":7.50e-5,"C3K":7.50e-5},{"wl":10650,"CKC":7.10e-5,"C3K":7.10e-5},{"wl":10700,"CKC":7.45e-5,"C3K":7.45e-5},
      {"wl":10750,"CKC":6.90e-5,"C3K":6.90e-5},{"wl":10800,"CKC":7.40e-5,"C3K":7.40e-5},{"wl":10850,"CKC":7.00e-5,"C3K":7.00e-5},{"wl":10900,"CKC":7.30e-5,"C3K":7.30e-5},
      {"wl":10950,"CKC":7.00e-5,"C3K":7.00e-5},{"wl":11000,"CKC":7.23e-5,"C3K":7.23e-5}
    ],
    "p3_smiles": [
      {"wl":3000,"flux":0.03e-5},{"wl":3100,"flux":0.12e-5},{"wl":3150,"flux":0.05e-5},{"wl":3200,"flux":0.25e-5},{"wl":3250,"flux":0.10e-5},{"wl":3300,"flux":0.30e-5},
      {"wl":3350,"flux":0.12e-5},{"wl":3400,"flux":0.35e-5},{"wl":3450,"flux":0.15e-5},{"wl":3526,"flux":1.00e-5},{"wl":3560,"flux":0.30e-5},{"wl":3600,"flux":0.60e-5},
      {"wl":3640,"flux":0.25e-5},{"wl":3670,"flux":1.20e-5},{"wl":3700,"flux":0.35e-5},{"wl":3740,"flux":0.60e-5},{"wl":3770,"flux":1.60e-5},{"wl":3800,"flux":0.40e-5},
      {"wl":3840,"flux":1.30e-5},{"wl":3870,"flux":0.35e-5},{"wl":3900,"flux":1.10e-5},{"wl":3930,"flux":0.20e-5},{"wl":3960,"flux":0.70e-5},{"wl":3990,"flux":0.50e-5},
      {"wl":4015,"flux":2.45e-5},{"wl":4040,"flux":0.90e-5},{"wl":4070,"flux":2.10e-5},{"wl":4100,"flux":2.40e-5},{"wl":4130,"flux":1.00e-5},{"wl":4160,"flux":1.60e-5},
      {"wl":4200,"flux":0.15e-5},{"wl":4230,"flux":0.60e-5},{"wl":4260,"flux":1.20e-5},{"wl":4290,"flux":0.40e-5},{"wl":4320,"flux":1.00e-5},{"wl":4350,"flux":0.60e-5},
      {"wl":4380,"flux":1.10e-5},{"wl":4410,"flux":0.70e-5},{"wl":4440,"flux":1.20e-5},{"wl":4470,"flux":0.75e-5},{"wl":4500,"flux":1.30e-5},{"wl":4530,"flux":0.80e-5},
      {"wl":4560,"flux":1.40e-5},{"wl":4590,"flux":0.85e-5},{"wl":4620,"flux":1.35e-5},{"wl":4650,"flux":0.90e-5},{"wl":4680,"flux":1.50e-5},{"wl":4700,"flux":1.50e-5},
      {"wl":4720,"flux":0.80e-5},{"wl":4740,"flux":2.20e-5},{"wl":4760,"flux":1.00e-5},{"wl":4780,"flux":1.80e-5},{"wl":4800,"flux":1.00e-5},{"wl":4820,"flux":1.90e-5},
      {"wl":4840,"flux":1.05e-5},{"wl":4860,"flux":2.20e-5},{"wl":4880,"flux":1.10e-5},{"wl":4900,"flux":2.30e-5},{"wl":4920,"flux":1.15e-5},{"wl":4940,"flux":2.50e-5},
      {"wl":4960,"flux":1.20e-5},{"wl":4980,"flux":1.00e-5},{"wl":5000,"flux":2.00e-5},{"wl":5020,"flux":1.30e-5},{"wl":5040,"flux":2.30e-5},{"wl":5060,"flux":1.35e-5},
      {"wl":5080,"flux":2.40e-5},{"wl":5100,"flux":1.40e-5},{"wl":5120,"flux":2.30e-5},{"wl":5140,"flux":1.40e-5},{"wl":5160,"flux":2.40e-5},{"wl":5180,"flux":1.45e-5},
      {"wl":5200,"flux":2.50e-5},{"wl":5220,"flux":1.50e-5},{"wl":5240,"flux":2.70e-5},{"wl":5260,"flux":1.55e-5},{"wl":5280,"flux":2.60e-5},{"wl":5300,"flux":1.50e-5},
      {"wl":5320,"flux":2.40e-5},{"wl":5340,"flux":1.40e-5},{"wl":5360,"flux":2.00e-5},{"wl":5380,"flux":1.30e-5},{"wl":5400,"flux":2.10e-5},{"wl":5420,"flux":1.40e-5},
      {"wl":5440,"flux":2.30e-5},{"wl":5460,"flux":1.50e-5},{"wl":5480,"flux":2.50e-5},{"wl":5500,"flux":1.60e-5},{"wl":5520,"flux":2.60e-5},{"wl":5540,"flux":1.60e-5},
      {"wl":5560,"flux":2.40e-5},{"wl":5580,"flux":1.50e-5},{"wl":5600,"flux":2.60e-5},{"wl":5620,"flux":1.70e-5},{"wl":5640,"flux":2.70e-5},{"wl":5660,"flux":1.75e-5},
      {"wl":5680,"flux":2.50e-5},{"wl":5700,"flux":1.80e-5},{"wl":5720,"flux":2.60e-5},{"wl":5740,"flux":1.70e-5},{"wl":5760,"flux":2.50e-5},{"wl":5780,"flux":1.75e-5},
      {"wl":5800,"flux":2.40e-5},{"wl":5820,"flux":1.80e-5},{"wl":5840,"flux":2.60e-5},{"wl":5860,"flux":1.80e-5},{"wl":5883,"flux":0.50e-5},{"wl":5900,"flux":1.80e-5},
      {"wl":5920,"flux":2.50e-5},{"wl":5940,"flux":1.80e-5},{"wl":5960,"flux":2.70e-5},{"wl":5980,"flux":1.85e-5},{"wl":6000,"flux":2.60e-5},{"wl":6020,"flux":1.90e-5},
      {"wl":6040,"flux":2.80e-5},{"wl":6060,"flux":1.95e-5},{"wl":6080,"flux":3.00e-5},{"wl":6100,"flux":2.00e-5},{"wl":6120,"flux":2.70e-5},{"wl":6140,"flux":1.95e-5},
      {"wl":6160,"flux":3.00e-5},{"wl":6180,"flux":2.00e-5},{"wl":6200,"flux":3.20e-5},{"wl":6220,"flux":2.00e-5},{"wl":6240,"flux":3.30e-5},{"wl":6260,"flux":2.10e-5},
      {"wl":6280,"flux":3.20e-5},{"wl":6300,"flux":2.10e-5},{"wl":6320,"flux":3.30e-5},{"wl":6340,"flux":2.10e-5},{"wl":6360,"flux":3.40e-5},{"wl":6380,"flux":2.05e-5},
      {"wl":6400,"flux":3.20e-5},{"wl":6420,"flux":2.00e-5},{"wl":6440,"flux":3.10e-5},{"wl":6460,"flux":1.90e-5},{"wl":6480,"flux":3.00e-5},{"wl":6500,"flux":1.85e-5},
      {"wl":6520,"flux":3.00e-5},{"wl":6540,"flux":1.80e-5},{"wl":6560,"flux":2.90e-5},{"wl":6580,"flux":1.70e-5},{"wl":6600,"flux":2.80e-5},{"wl":6620,"flux":1.65e-5},
      {"wl":6640,"flux":2.70e-5},{"wl":6660,"flux":1.60e-5},{"wl":6680,"flux":2.60e-5},{"wl":6700,"flux":1.50e-5},{"wl":6720,"flux":2.40e-5},{"wl":6740,"flux":1.50e-5},
      {"wl":6760,"flux":2.45e-5},{"wl":6780,"flux":1.55e-5},{"wl":6800,"flux":2.50e-5},{"wl":6820,"flux":1.60e-5},{"wl":6840,"flux":2.60e-5},{"wl":6860,"flux":1.80e-5},
      {"wl":6880,"flux":3.00e-5},{"wl":6900,"flux":2.00e-5},{"wl":6920,"flux":3.40e-5},{"wl":6940,"flux":2.10e-5},{"wl":6960,"flux":4.20e-5},{"wl":6980,"flux":2.40e-5},
      {"wl":7000,"flux":4.60e-5},{"wl":7020,"flux":3.00e-5},{"wl":7033,"flux":6.30e-5},{"wl":7050,"flux":2.50e-5},{"wl":7070,"flux":3.40e-5},{"wl":7090,"flux":1.80e-5},
      {"wl":7110,"flux":3.20e-5},{"wl":7130,"flux":1.70e-5},{"wl":7150,"flux":3.00e-5},{"wl":7170,"flux":2.00e-5},{"wl":7190,"flux":3.40e-5},{"wl":7210,"flux":2.40e-5},
      {"wl":7230,"flux":3.60e-5},{"wl":7250,"flux":2.80e-5},{"wl":7270,"flux":4.30e-5},{"wl":7290,"flux":3.00e-5},{"wl":7310,"flux":4.70e-5},{"wl":7330,"flux":3.40e-5},
      {"wl":7350,"flux":5.30e-5},{"wl":7370,"flux":3.80e-5},{"wl":7390,"flux":6.50e-5},{"wl":7410,"flux":4.40e-5},{"wl":7430,"flux":7.20e-5},{"wl":7450,"flux":4.80e-5},
      {"wl":7470,"flux":7.80e-5},{"wl":7490,"flux":5.20e-5},{"wl":7510,"flux":8.80e-5},{"wl":7527,"flux":9.21e-5},{"wl":7545,"flux":6.00e-5},{"wl":7560,"flux":8.60e-5},
      {"wl":7580,"flux":5.00e-5},{"wl":7600,"flux":6.80e-5},{"wl":7620,"flux":4.20e-5},{"wl":7640,"flux":6.20e-5},{"wl":7660,"flux":3.00e-5},{"wl":7680,"flux":5.80e-5},
      {"wl":7700,"flux":1.50e-5},{"wl":7720,"flux":5.40e-5},{"wl":7740,"flux":3.20e-5},{"wl":7760,"flux":5.80e-5},{"wl":7780,"flux":3.40e-5},{"wl":7800,"flux":6.20e-5},
      {"wl":7820,"flux":3.60e-5},{"wl":7840,"flux":6.60e-5},{"wl":7860,"flux":3.80e-5},{"wl":7880,"flux":6.90e-5},{"wl":7900,"flux":4.20e-5},{"wl":7920,"flux":7.10e-5},
      {"wl":7940,"flux":4.50e-5},{"wl":7960,"flux":7.40e-5},{"wl":7980,"flux":4.80e-5},{"wl":8000,"flux":7.60e-5},{"wl":8020,"flux":5.00e-5},{"wl":8040,"flux":8.00e-5},
      {"wl":8060,"flux":5.30e-5},{"wl":8080,"flux":8.40e-5},{"wl":8100,"flux":5.60e-5},{"wl":8120,"flux":8.70e-5},{"wl":8147,"flux":9.10e-5},{"wl":8165,"flux":6.00e-5},
      {"wl":8180,"flux":8.50e-5},{"wl":8200,"flux":5.80e-5},{"wl":8220,"flux":8.20e-5},{"wl":8240,"flux":5.40e-5},{"wl":8260,"flux":7.70e-5},{"wl":8280,"flux":5.00e-5},
      {"wl":8300,"flux":7.50e-5},{"wl":8320,"flux":4.60e-5},{"wl":8340,"flux":7.40e-5},{"wl":8360,"flux":4.30e-5},{"wl":8380,"flux":7.20e-5},{"wl":8400,"flux":4.10e-5},
      {"wl":8420,"flux":7.10e-5},{"wl":8440,"flux":4.00e-5},{"wl":8460,"flux":6.80e-5},{"wl":8478,"flux":2.20e-5},{"wl":8495,"flux":5.00e-5},{"wl":8510,"flux":7.20e-5},
      {"wl":8530,"flux":4.60e-5},{"wl":8550,"flux":7.50e-5},{"wl":8570,"flux":4.80e-5},{"wl":8590,"flux":7.80e-5},{"wl":8610,"flux":5.10e-5},{"wl":8630,"flux":8.00e-5},
      {"wl":8650,"flux":5.40e-5},{"wl":8670,"flux":8.20e-5},{"wl":8690,"flux":5.60e-5},{"wl":8710,"flux":8.50e-5},{"wl":8730,"flux":5.90e-5},{"wl":8750,"flux":8.80e-5},
      {"wl":8770,"flux":6.10e-5},{"wl":8795,"flux":9.47e-5},{"wl":8815,"flux":7.00e-5},{"wl":8835,"flux":9.30e-5},{"wl":8853,"flux":9.40e-5},{"wl":8867,"flux":4.50e-5},
      {"wl":8880,"flux":7.20e-5},{"wl":8895,"flux":4.00e-5},{"wl":8910,"flux":7.00e-5},{"wl":8925,"flux":3.00e-5},{"wl":8940,"flux":6.50e-5},{"wl":8955,"flux":3.50e-5},
      {"wl":8970,"flux":6.20e-5},{"wl":8985,"flux":2.80e-5},{"wl":8998,"flux":5.50e-5},{"wl":9000,"flux":0},{"wl":11000,"flux":0}
    ],
    "p3_ap": [
      {"wl":3000,"flux":0.02e-5},{"wl":3040,"flux":0.07e-5},{"wl":3080,"flux":0.03e-5},{"wl":3120,"flux":0.12e-5},{"wl":3160,"flux":0.05e-5},{"wl":3200,"flux":0.16e-5},
      {"wl":3240,"flux":0.07e-5},{"wl":3280,"flux":0.22e-5},{"wl":3320,"flux":0.09e-5},{"wl":3360,"flux":0.28e-5},{"wl":3400,"flux":0.12e-5},{"wl":3440,"flux":0.34e-5},
      {"wl":3480,"flux":0.14e-5},{"wl":3520,"flux":0.40e-5},{"wl":3560,"flux":0.18e-5},{"wl":3600,"flux":0.45e-5},{"wl":3640,"flux":0.20e-5},{"wl":3670,"flux":0.88e-5},
      {"wl":3700,"flux":0.30e-5},{"wl":3740,"flux":0.60e-5},{"wl":3770,"flux":0.35e-5},{"wl":3800,"flux":0.75e-5},{"wl":3842,"flux":1.19e-5},{"wl":3870,"flux":0.45e-5},
      {"wl":3900,"flux":0.70e-5},{"wl":3928,"flux":0.14e-5},{"wl":3960,"flux":0.60e-5},{"wl":3986,"flux":1.40e-5},{"wl":4015,"flux":0.90e-5},{"wl":4045,"flux":1.30e-5},
      {"wl":4075,"flux":0.80e-5},{"wl":4100,"flux":1.30e-5},{"wl":4130,"flux":0.80e-5},{"wl":4160,"flux":1.00e-5},{"wl":4201,"flux":0.14e-5},{"wl":4230,"flux":0.60e-5},
      {"wl":4273,"flux":1.10e-5},{"wl":4300,"flux":0.55e-5},{"wl":4331,"flux":0.90e-5},{"wl":4360,"flux":0.50e-5},{"wl":4400,"flux":0.90e-5},{"wl":4440,"flux":0.55e-5},
      {"wl":4480,"flux":0.95e-5},{"wl":4520,"flux":0.55e-5},{"wl":4560,"flux":0.90e-5},{"wl":4600,"flux":0.60e-5},{"wl":4640,"flux":0.95e-5},{"wl":4680,"flux":0.60e-5},
      {"wl":4720,"flux":1.00e-5},{"wl":4760,"flux":0.60e-5},{"wl":4800,"flux":0.95e-5},{"wl":4840,"flux":0.55e-5},{"wl":4880,"flux":0.95e-5},{"wl":4920,"flux":0.60e-5},
      {"wl":4960,"flux":1.00e-5},{"wl":5000,"flux":0.60e-5},{"wl":5049,"flux":1.05e-5},{"wl":5090,"flux":0.65e-5},{"wl":5135,"flux":1.00e-5},{"wl":5180,"flux":0.70e-5},
      {"wl":5220,"flux":1.10e-5},{"wl":5260,"flux":0.75e-5},{"wl":5300,"flux":1.15e-5},{"wl":5340,"flux":0.80e-5},{"wl":5380,"flux":1.20e-5},{"wl":5420,"flux":0.85e-5},
      {"wl":5460,"flux":1.30e-5},{"wl":5500,"flux":0.95e-5},{"wl":5540,"flux":1.40e-5},{"wl":5580,"flux":0.90e-5},{"wl":5620,"flux":1.40e-5},{"wl":5660,"flux":1.00e-5},
      {"wl":5710,"flux":1.60e-5},{"wl":5750,"flux":1.10e-5},{"wl":5800,"flux":1.60e-5},{"wl":5840,"flux":1.20e-5},{"wl":5854,"flux":1.55e-5},{"wl":5883,"flux":0.50e-5},
      {"wl":5910,"flux":1.10e-5},{"wl":5940,"flux":1.00e-5},{"wl":5980,"flux":1.50e-5},{"wl":6020,"flux":1.20e-5},{"wl":6055,"flux":1.75e-5},{"wl":6090,"flux":1.40e-5},
      {"wl":6141,"flux":1.95e-5},{"wl":6170,"flux":1.40e-5},{"wl":6210,"flux":1.70e-5},{"wl":6256,"flux":1.40e-5},{"wl":6300,"flux":1.85e-5},{"wl":6350,"flux":1.50e-5},
      {"wl":6400,"flux":1.90e-5},{"wl":6440,"flux":1.55e-5},{"wl":6486,"flux":1.90e-5},{"wl":6530,"flux":1.55e-5},{"wl":6580,"flux":1.90e-5},{"wl":6630,"flux":1.60e-5},
      {"wl":6680,"flux":1.85e-5},{"wl":6745,"flux":1.40e-5},{"wl":6800,"flux":1.75e-5},{"wl":6860,"flux":1.50e-5},{"wl":6910,"flux":1.90e-5},{"wl":6950,"flux":1.70e-5},
      {"wl":6975,"flux":2.14e-5},{"wl":7018,"flux":3.80e-5},{"wl":7040,"flux":2.20e-5},{"wl":7061,"flux":1.55e-5},{"wl":7090,"flux":1.70e-5},{"wl":7124,"flux":1.30e-5},
      {"wl":7160,"flux":1.80e-5},{"wl":7196,"flux":1.50e-5},{"wl":7250,"flux":2.40e-5},{"wl":7311,"flux":2.80e-5},{"wl":7350,"flux":3.60e-5},{"wl":7398,"flux":4.70e-5},
      {"wl":7440,"flux":5.20e-5},{"wl":7484,"flux":6.10e-5},{"wl":7520,"flux":6.40e-5},{"wl":7556,"flux":6.90e-5},{"wl":7594,"flux":5.80e-5},{"wl":7614,"flux":3.50e-5},
      {"wl":7640,"flux":2.90e-5},{"wl":7657,"flux":2.50e-5},{"wl":7690,"flux":1.85e-5},{"wl":7715,"flux":2.50e-5},{"wl":7760,"flux":2.30e-5},{"wl":7801,"flux":2.80e-5},
      {"wl":7840,"flux":2.70e-5},{"wl":7888,"flux":3.30e-5},{"wl":7930,"flux":3.50e-5},{"wl":7974,"flux":4.10e-5},{"wl":8020,"flux":4.60e-5},{"wl":8061,"flux":5.30e-5},
      {"wl":8100,"flux":6.10e-5},{"wl":8147,"flux":6.96e-5},{"wl":8175,"flux":6.20e-5},{"wl":8205,"flux":5.80e-5},{"wl":8230,"flux":4.60e-5},{"wl":8262,"flux":4.76e-5},
      {"wl":8300,"flux":4.20e-5},{"wl":8349,"flux":4.55e-5},{"wl":8380,"flux":4.00e-5},{"wl":8406,"flux":4.50e-5},{"wl":8440,"flux":3.90e-5},{"wl":8478,"flux":4.10e-5},
      {"wl":8510,"flux":4.60e-5},{"wl":8550,"flux":4.97e-5},{"wl":8600,"flux":5.50e-5},{"wl":8666,"flux":6.02e-5},{"wl":8720,"flux":6.40e-5},{"wl":8781,"flux":6.75e-5},
      {"wl":8820,"flux":6.90e-5},{"wl":8853,"flux":7.33e-5},{"wl":8867,"flux":4.76e-5},{"wl":8880,"flux":5.60e-5},{"wl":8896,"flux":3.70e-5},{"wl":8920,"flux":5.00e-5},
      {"wl":8940,"flux":4.50e-5},{"wl":8970,"flux":3.30e-5},{"wl":9003,"flux":4.14e-5},{"wl":9040,"flux":4.70e-5},{"wl":9069,"flux":5.60e-5},{"wl":9110,"flux":5.90e-5},
      {"wl":9156,"flux":6.50e-5},{"wl":9199,"flux":6.96e-5},{"wl":9240,"flux":6.60e-5},{"wl":9271,"flux":6.60e-5},{"wl":9314,"flux":6.20e-5},{"wl":9350,"flux":6.60e-5},
      {"wl":9386,"flux":6.30e-5},{"wl":9420,"flux":6.80e-5},{"wl":9444,"flux":6.75e-5},{"wl":9480,"flux":6.90e-5},{"wl":9516,"flux":6.96e-5},{"wl":9525,"flux":7.96e-5},
      {"wl":9535,"flux":6.30e-5},{"wl":9542,"flux":7.95e-5},{"wl":9590,"flux":7.90e-5},{"wl":9600,"flux":6.00e-5},{"wl":9610,"flux":7.88e-5},{"wl":9643,"flux":5.50e-5},
      {"wl":9655,"flux":7.85e-5},{"wl":9700,"flux":7.82e-5},{"wl":9720,"flux":6.30e-5},{"wl":9735,"flux":7.80e-5},{"wl":9759,"flux":5.90e-5},{"wl":9766,"flux":7.79e-5},
      {"wl":9773,"flux":5.20e-5},{"wl":9780,"flux":7.78e-5},{"wl":9850,"flux":7.72e-5},{"wl":9870,"flux":6.40e-5},{"wl":9890,"flux":7.70e-5},{"wl":9950,"flux":7.66e-5},
      {"wl":9970,"flux":6.60e-5},{"wl":9990,"flux":7.64e-5},{"wl":10100,"flux":7.58e-5},{"wl":10130,"flux":6.80e-5},{"wl":10160,"flux":7.55e-5},{"wl":10250,"flux":7.50e-5},
      {"wl":10300,"flux":6.40e-5},{"wl":10334,"flux":5.23e-5},{"wl":10360,"flux":7.45e-5},{"wl":10450,"flux":7.40e-5},{"wl":10480,"flux":5.91e-5},{"wl":10500,"flux":7.38e-5},
      {"wl":10560,"flux":6.33e-5},{"wl":10600,"flux":7.34e-5},{"wl":10640,"flux":6.40e-5},{"wl":10680,"flux":7.31e-5},{"wl":10730,"flux":6.30e-5},{"wl":10760,"flux":7.28e-5},
      {"wl":10824,"flux":5.90e-5},{"wl":10850,"flux":7.25e-5},{"wl":10900,"flux":6.50e-5},{"wl":10920,"flux":7.22e-5},{"wl":11000,"flux":7.17e-5}
    ]
  },
  "vconcat": [
    {
      "width": 1285,
      "height": 329,
      "title": "Teff = 20000 K, log(g) = 4.5, Z = 0.010",
      "encoding": {
        "x": {"field": "wl", "type": "quantitative", "scale": {"domain": [1640, 5160], "nice": false, "zero": false}, "axis": {"values": [2000, 2500, 3000, 3500, 4000, 4500, 5000], "format": "d", "title": "λ/Å", "titleFontStyle": "italic"}},
        "y": {"field": "flux", "type": "quantitative", "scale": {"domain": [-0.0000216, 0.000452], "nice": false, "zero": false}, "axis": {"values": [0, 0.0002, 0.0004], "format": ".4f", "title": "Flux"}}
      },
      "layer": [
        {"data": {"name": "p1_ckc"}, "transform": [{"fold": ["C3K"], "as": ["model", "flux"]}], "mark": "line",
         "encoding": {"color": {"datum": "C3K", "scale": {"domain": ["AP", "BASEL", "C3K", "CKC", "Coelho"], "range": ["#377eb8", "#ff7f00", "#4daf4a", "#f781bf", "#a65628"]}, "legend": {"title": null, "orient": "top-right"}}}},
        {"data": {"name": "p1_ckc"}, "transform": [{"fold": ["CKC"], "as": ["model", "flux"]}], "mark": "line",
         "encoding": {"color": {"datum": "CKC", "scale": {"domain": ["AP", "BASEL", "C3K", "CKC", "Coelho"], "range": ["#377eb8", "#ff7f00", "#4daf4a", "#f781bf", "#a65628"]}, "legend": {"title": null, "orient": "top-right"}}}},
        {"data": {"name": "p1_ap"}, "mark": "line",
         "encoding": {"color": {"datum": "AP", "scale": {"domain": ["AP", "BASEL", "C3K", "CKC", "Coelho"], "range": ["#377eb8", "#ff7f00", "#4daf4a", "#f781bf", "#a65628"]}, "legend": {"title": null, "orient": "top-right"}}}},
        {"data": {"name": "p1_coelho"}, "mark": "line",
         "encoding": {"color": {"datum": "Coelho", "scale": {"domain": ["AP", "BASEL", "C3K", "CKC", "Coelho"], "range": ["#377eb8", "#ff7f00", "#4daf4a", "#f781bf", "#a65628"]}, "legend": {"title": null, "orient": "top-right"}}}},
        {"data": {"name": "p1_basel"}, "mark": {"type": "line", "strokeWidth": 3},
         "encoding": {"color": {"datum": "BASEL", "scale": {"domain": ["AP", "BASEL", "C3K", "CKC", "Coelho"], "range": ["#377eb8", "#ff7f00", "#4daf4a", "#f781bf", "#a65628"]}, "legend": {"title": null, "orient": "top-right"}}}}
      ]
    },
    {
      "width": 1285,
      "height": 329,
      "title": {"text": "Teff = 10000 K, log(g) = 4.5, Z = 0.010", "offset": -6},
      "encoding": {
        "x": {"field": "wl", "type": "quantitative", "scale": {"domain": [1640, 5160], "nice": false, "zero": false}, "axis": {"values": [2000, 2500, 3000, 3500, 4000, 4500, 5000], "format": "d", "title": "λ/Å", "titleFontStyle": "italic"}},
        "y": {"field": "flux", "type": "quantitative", "scale": {"domain": [-0.0000144, 0.0003024], "nice": false, "zero": false}, "axis": {"values": [0, 0.0001, 0.0002, 0.0003], "format": ".4f", "title": "Flux"}}
      },
      "layer": [
        {"data": {"name": "p2_smiles"}, "mark": "line",
         "encoding": {"color": {"datum": "sMILES", "scale": {"domain": ["AP", "BASEL", "C3K", "CKC", "Coelho", "sMILES"], "range": ["#377eb8", "#ff7f00", "#4daf4a", "#f781bf", "#a65628", "#984ea3"]}, "legend": {"title": null, "orient": "bottom-left"}}}},
        {"data": {"name": "p2_ckc"}, "transform": [{"fold": ["C3K"], "as": ["model", "flux"]}], "mark": "line",
         "encoding": {"color": {"datum": "C3K", "scale": {"domain": ["AP", "BASEL", "C3K", "CKC", "Coelho", "sMILES"], "range": ["#377eb8", "#ff7f00", "#4daf4a", "#f781bf", "#a65628", "#984ea3"]}, "legend": {"title": null, "orient": "bottom-left"}}}},
        {"data": {"name": "p2_ckc"}, "transform": [{"fold": ["CKC"], "as": ["model", "flux"]}], "mark": "line",
         "encoding": {"color": {"datum": "CKC", "scale": {"domain": ["AP", "BASEL", "C3K", "CKC", "Coelho", "sMILES"], "range": ["#377eb8", "#ff7f00", "#4daf4a", "#f781bf", "#a65628", "#984ea3"]}, "legend": {"title": null, "orient": "bottom-left"}}}},
        {"data": {"name": "p2_ap"}, "mark": "line",
         "encoding": {"color": {"datum": "AP", "scale": {"domain": ["AP", "BASEL", "C3K", "CKC", "Coelho", "sMILES"], "range": ["#377eb8", "#ff7f00", "#4daf4a", "#f781bf", "#a65628", "#984ea3"]}, "legend": {"title": null, "orient": "bottom-left"}}}},
        {"data": {"name": "p2_coelho"}, "mark": {"type": "line", "strokeWidth": 2.9},
         "encoding": {"color": {"datum": "Coelho", "scale": {"domain": ["AP", "BASEL", "C3K", "CKC", "Coelho", "sMILES"], "range": ["#377eb8", "#ff7f00", "#4daf4a", "#f781bf", "#a65628", "#984ea3"]}, "legend": {"title": null, "orient": "bottom-left"}}}},
        {"data": {"name": "p2_basel"}, "mark": {"type": "line", "strokeWidth": 3},
         "encoding": {"color": {"datum": "BASEL", "scale": {"domain": ["AP", "BASEL", "C3K", "CKC", "Coelho", "sMILES"], "range": ["#377eb8", "#ff7f00", "#4daf4a", "#f781bf", "#a65628", "#984ea3"]}, "legend": {"title": null, "orient": "bottom-left"}}}}
      ]
    },
    {
      "width": 1285,
      "height": 330,
      "title": {"text": "Teff = 3500 K, log(g) = 4.5, Z = 0.010", "offset": -30},
      "encoding": {
        "x": {"field": "wl", "type": "quantitative", "scale": {"domain": [2600, 11400], "nice": false, "zero": false}, "axis": {"values": [3000, 4000, 5000, 6000, 7000, 8000, 9000, 10000, 11000], "format": "d", "title": "λ/Å", "titleFontStyle": "italic"}},
        "y": {"field": "flux", "type": "quantitative", "scale": {"domain": [-0.0000047, 0.0000994], "nice": false, "zero": false}, "axis": {"values": [0, 0.00005], "labelExpr": "format(datum.value * 100000, '.0f')", "title": "Flux"}}
      },
      "layer": [
        {"data": {"name": "p3_ckc"}, "transform": [{"fold": ["C3K"], "as": ["model", "flux"]}], "mark": "line",
         "encoding": {"color": {"datum": "C3K", "scale": {"domain": ["AP", "C3K", "CKC", "sMILES"], "range": ["#377eb8", "#4daf4a", "#f781bf", "#984ea3"]}, "legend": {"title": null, "orient": "top-left"}}}},
        {"data": {"name": "p3_ckc"}, "transform": [{"fold": ["CKC"], "as": ["model", "flux"]}], "mark": "line",
         "encoding": {"color": {"datum": "CKC", "scale": {"domain": ["AP", "C3K", "CKC", "sMILES"], "range": ["#377eb8", "#4daf4a", "#f781bf", "#984ea3"]}, "legend": {"title": null, "orient": "top-left"}}}},
        {"data": {"name": "p3_smiles"}, "mark": "line",
         "encoding": {"color": {"datum": "sMILES", "scale": {"domain": ["AP", "C3K", "CKC", "sMILES"], "range": ["#377eb8", "#4daf4a", "#f781bf", "#984ea3"]}, "legend": {"title": null, "orient": "top-left"}}}},
        {"data": {"name": "p3_ap"}, "mark": "line",
         "encoding": {"color": {"datum": "AP", "scale": {"domain": ["AP", "C3K", "CKC", "sMILES"], "range": ["#377eb8", "#4daf4a", "#f781bf", "#984ea3"]}, "legend": {"title": null, "orient": "top-left"}}}},
        {"data": {"values": [{"wl": 2600, "flux": 0.0000994, "label": "1e−5"}]}, "mark": {"type": "text", "align": "left", "baseline": "bottom", "fontSize": 32, "color": "#4d4d4d", "dy": -4, "clip": false},
         "encoding": {"text": {"field": "label", "type": "nominal"}}}
      ]
    }
  ]
}
